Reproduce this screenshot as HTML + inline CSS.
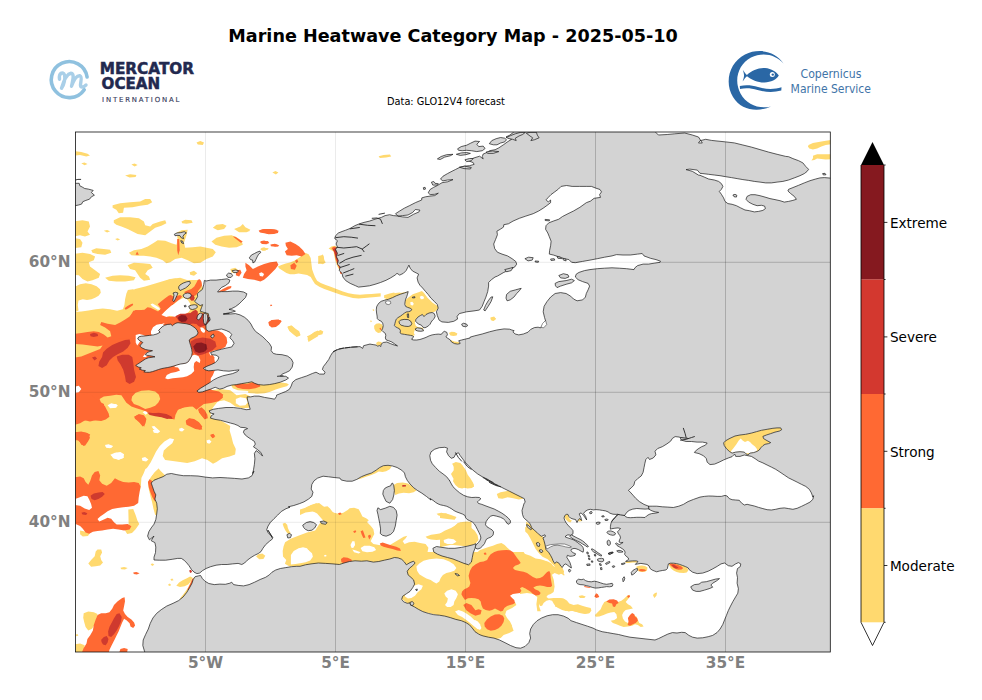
<!DOCTYPE html>
<html><head><meta charset="utf-8"><title>Marine Heatwave Category Map</title>
<style>
html,body{margin:0;padding:0;background:#fff}
body{width:982px;height:700px;overflow:hidden;position:relative}
svg{position:absolute;left:0;top:0;display:block}
text{font-family:"DejaVu Sans","Liberation Sans",sans-serif}
</style></head><body>
<svg width="982" height="700" viewBox="0 0 982 700">
<rect width="982" height="700" fill="#fff"/>
<defs><clipPath id="mapclip"><rect x="75.5" y="132.0" width="754.8" height="520.0"/></clipPath></defs>

<defs><path id="mainland" d="M513.5 132.0 L513.5 132.3 L509.8 135.1 L506.1 136.9 L511.6 139.3 L508.0 141.5 L503.4 144.8 L498.8 147.9 L495.1 149.7 L489.6 150.7 L486.9 152.5 L483.2 154.0 L482.3 156.5 L483.2 158.9 L479.6 156.2 L475.0 157.6 L471.3 158.9 L468.0 160.7 L473.2 162.6 L474.1 164.4 L469.5 165.7 L464.0 166.2 L459.4 167.5 L455.7 169.4 L452.1 171.2 L447.5 173.6 L442.9 176.3 L440.5 179.1 L442.9 180.9 L447.5 180.0 L453.0 179.6 L447.5 181.8 L442.0 182.7 L437.4 185.5 L433.7 187.3 L430.1 189.5 L428.2 192.8 L430.1 194.6 L434.7 194.3 L438.3 193.2 L434.7 195.6 L430.1 196.1 L425.5 196.8 L421.8 197.9 L421.7 200.0 L415.3 202.7 L409.8 205.5 L404.3 208.2 L399.7 211.0 L395.5 213.7 L397.9 216.1 L402.5 216.9 L408.0 217.4 L413.5 214.3 L419.0 211.9 L419.9 210.1 L415.3 209.5 L412.6 212.5 L408.0 215.0 L402.5 215.6 L398.8 216.1 L393.3 215.6 L389.6 214.7 L385.1 215.6 L381.4 217.4 L375.0 219.2 L369.5 221.1 L364.0 222.4 L359.4 223.8 L354.8 225.7 L350.2 228.4 L345.7 230.2 L342.0 231.5 L338.3 233.0 L335.6 235.7 L334.7 238.5 L337.4 240.7 L336.1 244.0 L337.4 246.7 L335.6 249.5 L337.4 253.2 L336.5 256.8 L338.3 260.5 L337.4 264.1 L340.2 266.9 L339.2 270.6 L342.0 273.3 L342.9 277.0 L345.7 280.6 L350.2 283.4 L355.7 285.8 L358.5 287.1 L364.0 286.5 L369.5 285.8 L375.0 284.3 L380.5 282.5 L386.0 280.3 L390.6 277.9 L395.1 275.1 L397.0 273.3 L399.7 275.1 L403.4 273.3 L406.1 270.6 L408.0 266.9 L408.9 265.1 L410.2 268.2 L412.6 271.1 L416.2 272.9 L418.6 274.2 L417.1 277.9 L418.1 282.1 L419.9 285.2 L422.6 288.0 L425.4 291.3 L428.1 294.4 L430.9 298.1 L434.6 301.7 L437.3 304.5 L438.2 308.1 L436.4 311.8 L437.3 315.5 L439.1 320.1 L441.9 321.9 L448.3 322.4 L453.8 321.3 L457.5 319.1 L457.1 316.4 L459.3 313.6 L466.6 311.8 L474.0 310.9 L479.5 310.0 L482.2 306.3 L484.0 301.7 L485.9 297.1 L487.7 291.6 L488.6 286.1 L488.6 282.5 L491.4 279.7 L495.0 277.0 L497.4 276.1 L503.8 272.4 L510.2 269.6 L514.8 266.9 L516.7 264.1 L515.7 261.4 L512.1 258.7 L507.5 255.9 L502.0 254.1 L497.4 252.2 L494.7 248.6 L493.7 244.0 L495.6 239.4 L497.4 234.8 L496.9 231.2 L500.2 229.3 L503.5 227.1 L503.8 224.7 L508.4 223.8 L513.0 221.1 L519.4 218.3 L525.8 216.1 L533.2 213.7 L538.7 211.0 L543.2 208.2 L546.9 205.5 L550.6 202.7 L550.6 200.0 L548.3 202.0 L546.1 199.8 L548.3 197.4 L551.0 194.6 L554.7 191.9 L558.4 189.1 L561.1 186.4 L566.6 185.5 L572.1 186.4 L579.5 186.4 L586.8 186.4 L591.4 186.4 L596.0 188.2 L600.0 189.5 L601.5 191.9 L599.6 194.6 L600.5 197.4 L594.1 198.3 L590.5 201.1 L586.3 202.7 L579.9 207.3 L573.5 211.0 L568.0 213.7 L562.5 216.5 L558.8 219.2 L553.3 221.1 L548.7 222.9 L546.0 225.7 L545.6 229.3 L547.8 233.0 L549.3 236.7 L551.1 241.2 L550.6 245.8 L549.6 250.4 L549.3 254.1 L553.3 255.0 L558.8 256.8 L564.3 258.7 L568.9 259.6 L571.6 262.3 L575.3 262.7 L582.6 261.4 L590.0 260.1 L597.3 258.7 L604.6 257.2 L612.0 255.9 L616.5 254.6 L623.0 255.0 L630.3 255.0 L637.6 254.1 L642.2 253.5 L644.0 255.9 L650.5 258.3 L656.0 259.6 L660.5 261.2 L660.0 262.3 L654.1 263.2 L648.6 264.1 L643.1 264.1 L637.6 265.6 L634.9 267.8 L634.0 269.6 L626.6 268.7 L619.3 268.2 L612.0 267.8 L604.6 268.2 L597.3 268.7 L590.0 269.6 L584.5 270.6 L579.0 272.4 L576.2 274.2 L575.3 277.0 L578.1 279.7 L582.6 281.6 L588.1 283.4 L589.6 286.1 L588.1 289.8 L586.3 293.5 L585.4 297.1 L582.6 299.9 L577.1 300.8 L573.5 299.0 L570.7 296.2 L566.1 293.5 L560.6 292.6 L555.1 293.5 L550.6 297.1 L546.9 301.7 L544.1 306.3 L543.2 311.8 L544.5 317.3 L545.6 321.0 L543.2 324.6 L540.5 327.9 L538.1 327.2 L534.4 327.6 L530.7 329.4 L528.0 332.2 L523.4 334.0 L518.8 334.9 L515.1 334.0 L512.9 331.8 L514.2 330.7 L511.8 330.0 L509.6 329.2 L504.1 328.9 L496.8 330.0 L489.5 331.8 L482.2 334.0 L474.8 335.8 L470.2 337.1 L470.0 338.0 L465.7 339.0 L461.6 340.0 L458.6 340.8 L459.6 342.0 L460.1 343.6 L457.6 344.1 L454.5 343.6 L451.5 342.0 L450.4 340.0 L447.4 338.0 L445.9 336.9 L447.4 334.9 L446.9 332.4 L444.3 331.3 L442.3 332.9 L441.3 334.4 L438.2 334.1 L435.2 334.4 L432.1 334.9 L429.1 335.9 L426.0 337.4 L423.0 338.5 L419.9 339.5 L416.8 340.0 L413.8 340.0 L411.8 339.5 L412.3 338.0 L413.8 336.9 L412.8 335.9 L410.7 335.4 L407.7 334.9 L404.6 334.4 L401.6 333.9 L400.0 332.9 L400.5 330.8 L399.5 328.8 L397.5 327.8 L395.5 326.8 L394.4 325.7 L394.9 323.7 L395.5 321.2 L396.3 319.1 L398.0 317.6 L400.5 316.1 L402.6 314.5 L404.6 313.0 L406.2 312.0 L408.7 311.7 L410.7 311.0 L411.8 309.4 L410.2 308.2 L407.7 307.4 L405.6 306.4 L404.8 304.3 L405.1 301.8 L405.6 299.3 L406.7 296.7 L407.5 294.2 L408.2 291.6 L404.6 292.9 L400.5 294.2 L396.5 295.7 L392.4 297.7 L388.3 299.3 L384.3 300.3 L381.2 301.3 L379.2 302.8 L377.6 304.9 L376.6 306.9 L376.3 309.9 L376.6 313.0 L377.1 316.1 L377.3 318.6 L378.7 320.1 L381.2 321.2 L382.7 323.2 L383.2 325.7 L382.7 328.3 L381.7 330.3 L383.2 331.8 L385.3 333.4 L385.8 335.4 L385.3 338.0 L386.3 340.0 L388.8 340.8 L391.9 342.0 L394.9 344.1 L397.5 345.9 L394.4 345.1 L390.4 343.6 L386.8 342.0 L383.2 342.5 L381.2 344.1 L380.7 346.6 L379.7 345.6 L377.6 346.1 L376.1 345.1 L373.1 344.6 L370.0 344.1 L370.1 344.0 L363.6 345.7 L362.7 348.4 L360.0 346.6 L352.6 347.1 L345.3 347.9 L339.8 349.0 L336.1 350.2 L332.5 352.6 L330.6 355.7 L328.8 359.4 L326.1 363.1 L323.3 366.7 L322.4 369.5 L325.1 372.2 L324.2 374.1 L319.6 374.1 L316.0 372.2 L312.3 373.5 L306.8 375.9 L301.3 377.7 L295.8 379.6 L292.5 382.3 L291.2 386.0 L289.4 389.3 L285.7 391.5 L281.2 393.3 L276.6 395.1 L276.4 396.5 L274.6 399.2 L270.0 398.3 L264.5 397.4 L259.0 396.1 L254.4 396.1 L250.7 396.9 L247.1 396.9 L247.6 400.2 L248.9 404.7 L250.2 409.3 L246.1 409.7 L240.6 408.4 L233.3 407.5 L226.0 407.5 L218.7 408.4 L213.2 409.3 L209.1 410.8 L210.4 413.0 L214.1 413.9 L211.3 415.7 L210.4 418.1 L215.0 419.4 L220.5 420.3 L226.0 421.8 L230.6 423.1 L234.2 424.0 L237.9 425.5 L240.6 427.3 L245.2 427.7 L247.6 428.6 L244.3 429.9 L243.4 432.2 L245.2 435.0 L248.0 437.2 L251.6 439.6 L254.4 441.4 L255.3 444.1 L253.5 446.9 L257.1 449.3 L260.8 452.4 L262.6 456.1 L259.9 453.3 L256.2 450.6 L254.4 453.3 L254.9 458.8 L254.4 464.3 L253.5 469.8 L252.6 473.5 L253.9 471.1 L252.0 475.7 L248.4 477.9 L242.0 479.0 L234.6 478.4 L227.3 477.9 L220.0 477.5 L212.6 477.9 L205.3 477.1 L198.0 476.0 L190.6 475.7 L183.3 475.7 L176.9 474.7 L171.4 473.5 L166.8 474.2 L163.2 476.6 L158.6 478.4 L154.0 480.2 L151.2 483.0 L152.5 486.7 L154.0 491.2 L155.8 494.9 L154.9 499.1 L156.7 503.2 L157.3 508.7 L156.7 514.1 L155.8 519.6 L154.0 524.2 L151.2 527.9 L148.9 531.6 L147.6 536.1 L149.4 539.8 L154.0 536.1 L151.2 540.7 L154.9 542.6 L155.8 547.1 L155.5 552.6 L154.0 557.2 L154.0 560.0 L159.3 560.2 L165.7 560.2 L172.2 559.3 L177.7 558.4 L181.3 558.4 L184.1 560.2 L186.8 563.0 L189.0 565.7 L191.4 569.4 L194.1 572.2 L196.9 573.6 L199.6 573.1 L202.4 570.7 L206.1 568.5 L210.6 566.7 L216.1 565.2 L221.6 564.5 L227.1 564.5 L232.6 563.9 L238.1 563.4 L241.8 564.5 L244.6 563.0 L247.3 560.2 L251.0 557.5 L254.6 555.3 L258.3 553.5 L261.0 551.6 L262.9 548.3 L265.6 544.7 L269.3 541.4 L272.6 538.8 L271.1 535.5 L268.9 531.8 L267.8 530.0 L272.8 537.6 L270.4 535.2 L268.0 532.5 L266.7 529.7 L268.0 526.1 L270.4 522.4 L274.0 518.7 L277.7 515.1 L281.4 511.4 L286.0 508.7 L290.0 507.2 L288.3 506.8 L293.8 505.5 L299.3 503.7 L303.9 501.9 L308.5 499.1 L311.8 496.4 L313.0 492.2 L311.2 489.1 L311.8 484.5 L314.0 480.8 L317.6 478.1 L323.1 476.2 L328.6 476.8 L334.1 477.5 L340.0 478.1 L341.2 480.0 L346.7 481.2 L352.2 481.2 L356.8 479.4 L361.4 476.7 L366.0 474.8 L371.5 473.0 L376.1 470.2 L379.7 467.5 L383.4 465.7 L388.0 465.3 L392.6 466.0 L397.1 467.5 L401.7 470.2 L404.5 473.0 L405.4 476.7 L407.2 480.3 L410.0 484.0 L413.6 487.7 L417.3 490.4 L421.9 493.2 L426.5 496.5 L431.0 500.1 L430.0 498.5 L431.0 499.1 L433.1 500.4 L435.6 502.4 L438.1 503.9 L440.7 504.9 L443.7 505.5 L446.8 506.3 L449.3 507.5 L451.9 509.0 L453.9 510.5 L456.0 511.6 L458.0 512.4 L460.0 513.1 L462.6 514.1 L465.1 515.6 L465.6 517.7 L467.2 519.5 L469.7 520.7 L472.3 522.0 L474.3 523.8 L475.8 526.3 L477.4 529.4 L478.9 532.4 L480.4 535.5 L480.9 538.0 L479.9 540.6 L478.4 542.6 L476.3 544.7 L474.8 546.7 L475.8 548.4 L477.9 549.0 L480.4 548.0 L482.4 546.2 L484.5 543.6 L485.5 541.1 L486.5 539.1 L488.6 538.0 L491.1 537.0 L493.1 535.0 L493.6 531.9 L492.1 529.9 L489.6 528.4 L487.0 526.8 L485.5 524.8 L486.0 521.8 L488.0 518.7 L490.6 516.2 L493.1 515.4 L496.7 516.2 L500.3 517.2 L503.3 518.7 L505.4 520.7 L506.9 523.3 L508.9 524.3 L510.4 522.8 L510.4 520.7 L508.4 518.2 L505.4 515.6 L501.8 513.1 L498.2 511.1 L494.2 509.0 L490.1 507.5 L486.0 506.0 L481.9 504.4 L478.4 503.4 L477.4 501.9 L478.9 500.4 L480.9 498.8 L479.4 497.5 L475.8 497.3 L471.8 497.5 L467.7 496.8 L463.6 495.3 L459.5 492.7 L456.0 489.7 L452.9 486.6 L450.9 483.1 L449.3 480.0 L449.4 480.3 L446.6 476.7 L443.0 473.9 L439.3 471.2 L435.6 467.5 L432.3 463.8 L430.5 460.2 L429.8 455.6 L431.0 451.9 L434.7 449.2 L439.3 447.7 L444.8 447.3 L447.5 448.2 L446.6 451.9 L448.5 455.6 L451.2 458.3 L454.0 457.4 L455.8 453.7 L458.5 452.8 L460.2 455.6 L462.9 459.2 L465.7 462.9 L469.3 466.6 L473.0 470.2 L477.6 473.9 L482.2 476.7 L487.7 479.4 L493.2 483.1 L498.7 485.8 L504.1 488.6 L509.6 491.3 L515.1 494.1 L520.6 496.8 L524.3 498.7 L525.2 502.3 L524.1 503.2 L523.1 506.8 L522.0 510.4 L522.5 514.4 L523.6 517.5 L526.1 520.0 L528.7 522.1 L530.2 524.1 L531.7 527.7 L534.3 530.2 L536.8 532.3 L539.3 534.8 L541.4 536.3 L544.9 534.8 L545.5 536.3 L542.9 537.9 L543.9 540.4 L543.9 540.5 L544.9 544.1 L545.5 547.1 L546.0 549.7 L548.5 552.2 L550.5 555.3 L552.1 558.3 L553.1 560.9 L554.6 563.4 L556.7 561.9 L559.2 563.4 L560.7 566.0 L562.3 567.5 L563.8 564.9 L565.8 563.9 L567.9 565.5 L569.9 567.0 L571.4 568.0 L570.9 565.5 L569.9 562.4 L568.4 559.9 L566.8 557.3 L567.4 555.3 L569.9 556.3 L572.4 556.1 L575.0 555.3 L575.5 553.7 L573.0 552.7 L570.9 550.7 L571.4 549.2 L574.0 548.4 L576.0 548.7 L578.6 549.7 L581.1 551.2 L583.1 552.2 L583.6 550.2 L583.1 547.6 L581.6 545.6 L579.6 544.1 L577.5 542.5 L575.5 541.0 L574.0 540.0 L570.9 538.9 L567.9 537.9 L565.3 537.0 L565.8 535.8 L567.9 534.8 L570.9 535.3 L573.0 533.8 L573.0 530.7 L571.9 529.2 L569.9 527.2 L567.9 525.1 L566.3 523.1 L564.8 520.5 L564.0 518.0 L564.8 515.5 L566.3 514.4 L567.9 514.4 L568.9 516.5 L570.4 518.0 L573.0 519.0 L575.5 519.5 L577.0 522.6 L578.0 520.5 L579.6 518.5 L581.6 520.5 L580.9 517.5 L579.1 513.9 L581.1 512.9 L583.6 515.5 L586.7 520.0 L585.7 516.5 L583.6 513.4 L585.2 511.4 L587.7 509.9 L590.3 509.3 L593.3 509.9 L595.9 509.6 L599.4 509.9 L602.5 510.4 L605.5 510.9 L608.1 511.9 L609.9 513.2 L612.9 514.2 L616.0 514.4 L618.0 514.2 L616.5 516.0 L614.4 518.0 L612.4 520.3 L611.6 521.6 L610.9 523.6 L610.4 526.7 L610.4 529.2 L611.9 528.7 L614.9 528.2 L618.0 527.9 L620.5 528.5 L619.0 530.2 L617.5 531.8 L618.5 533.8 L620.0 535.8 L620.5 537.9 L619.5 539.9 L619.0 541.9 L620.5 542.7 L623.1 542.4 L621.6 543.5 L619.5 544.5 L618.0 544.0 L616.5 543.0 L615.5 543.5 L617.0 545.5 L619.5 547.0 L622.1 548.6 L624.1 550.1 L625.1 552.1 L625.1 552.2 L624.6 554.3 L626.2 556.3 L628.2 557.8 L628.7 559.3 L627.2 560.4 L625.6 561.4 L628.7 561.2 L632.8 560.9 L636.3 560.9 L637.9 561.4 L636.8 562.9 L635.3 564.4 L637.9 563.9 L640.9 563.4 L644.0 563.9 L647.0 564.4 L649.1 566.0 L650.1 568.5 L652.1 570.0 L654.7 571.1 L656.7 571.8 L659.2 571.1 L662.3 570.5 L665.9 570.0 L667.4 568.5 L667.9 566.0 L668.4 563.9 L670.4 563.2 L673.5 563.2 L676.6 563.6 L679.6 564.4 L682.7 565.5 L685.7 566.7 L688.3 568.0 L688.9 569.4 L692.6 572.2 L697.2 573.6 L702.7 573.1 L708.2 571.2 L712.7 568.9 L717.3 566.3 L721.0 563.9 L724.6 563.0 L728.3 565.7 L732.0 566.3 L735.6 563.9 L738.4 562.6 L740.8 563.9 L740.2 566.7 L737.5 568.5 L736.6 573.1 L737.5 577.7 L737.1 583.2 L738.4 588.7 L737.8 593.2 L735.6 596.9 L732.9 601.5 L730.5 606.1 L728.3 610.6 L726.5 615.2 L724.6 619.8 L722.8 624.4 L720.1 629.0 L717.0 632.6 L712.7 635.4 L708.2 636.7 L702.7 637.8 L697.2 638.1 L692.6 637.2 L688.9 635.4 L685.2 632.6 L681.6 632.3 L677.0 633.0 L672.4 632.6 L667.8 634.1 L663.2 636.3 L658.7 638.5 L655.0 640.0 L630.0 637.2 L624.1 635.9 L618.6 634.5 L613.1 633.6 L607.6 632.6 L602.1 631.7 L596.6 629.9 L593.0 628.1 L587.5 626.2 L582.0 624.4 L576.5 622.6 L571.0 620.7 L568.2 618.3 L563.6 616.1 L558.1 614.7 L552.6 614.7 L547.1 615.8 L541.6 618.0 L537.1 620.7 L533.4 624.4 L530.6 629.0 L529.7 633.6 L530.6 638.1 L528.8 642.7 L525.1 646.4 L520.6 648.2 L516.0 647.7 L510.5 645.5 L505.0 642.7 L499.5 640.0 L494.0 638.1 L488.5 637.2 L483.0 635.9 L480.0 634.8 L478.7 634.1 L475.0 631.7 L472.3 628.1 L469.5 624.9 L465.9 622.6 L461.3 620.7 L455.8 619.4 L450.3 617.6 L444.8 616.1 L439.3 615.2 L433.8 614.7 L428.3 613.4 L422.8 611.6 L418.2 609.2 L414.6 607.0 L410.9 605.1 L410.0 602.9 L407.2 603.3 L403.6 601.8 L401.7 599.3 L402.6 596.3 L406.3 593.8 L410.0 591.4 L412.7 587.7 L414.6 584.1 L413.6 579.9 L410.9 577.3 L408.1 574.9 L407.2 571.2 L409.6 568.1 L412.7 565.7 L415.1 563.0 L413.6 561.2 L410.0 562.6 L406.3 564.8 L404.5 562.1 L401.7 559.3 L398.1 557.9 L394.4 557.5 L389.8 559.0 L384.3 560.2 L378.8 561.5 L373.3 562.1 L366.9 560.8 L361.4 561.2 L355.0 560.8 L349.5 561.5 L344.0 563.0 L339.4 564.5 L333.0 563.9 L325.7 563.4 L318.3 563.0 L311.0 563.9 L305.5 564.8 L300.0 566.3 L296.8 566.3 L291.3 566.7 L285.8 567.6 L280.3 568.5 L275.7 570.0 L272.0 572.2 L269.3 574.9 L265.6 577.3 L260.1 579.5 L254.6 582.2 L249.1 584.6 L243.6 585.9 L238.1 585.4 L233.6 584.6 L231.7 582.2 L229.9 583.2 L225.3 584.3 L219.8 584.1 L214.3 584.6 L208.8 583.5 L205.1 581.3 L202.4 578.6 L200.6 575.5 L198.7 575.8 L195.1 576.7 L193.2 579.5 L192.0 583.2 L189.6 587.7 L186.8 592.3 L183.2 596.9 L178.6 600.6 L173.1 603.3 L166.7 606.1 L161.2 609.7 L156.6 613.4 L152.9 618.0 L150.2 623.5 L148.3 629.0 L145.6 634.5 L143.2 640.0 L142.8 645.5 L144.7 651.9 L144.7 655.0 L833.3 655.0 L833.3 178.1 L830.3 178.1 L824.3 177.6 L820.0 177.9 L815.7 179.0 L810.0 180.7 L804.3 182.9 L798.6 185.3 L792.9 187.6 L788.6 189.3 L787.9 191.0 L790.7 193.6 L794.3 196.4 L796.4 199.3 L792.9 200.4 L788.6 201.4 L784.3 202.1 L780.0 200.7 L775.0 199.6 L770.0 198.6 L765.0 197.1 L760.0 195.7 L755.0 194.7 L750.7 194.7 L747.1 196.4 L746.0 199.3 L748.6 202.1 L752.9 204.3 L757.1 205.7 L761.4 205.3 L764.6 206.1 L765.4 208.6 L762.9 210.4 L758.6 211.4 L754.3 211.9 L749.3 210.7 L745.0 210.0 L740.7 207.9 L736.4 205.7 L732.1 204.3 L727.9 203.6 L725.0 201.4 L723.6 197.9 L721.4 194.3 L719.3 191.4 L721.4 189.3 L722.9 186.4 L721.4 183.6 L718.6 181.4 L714.3 180.0 L708.6 179.0 L704.3 177.1 L700.0 175.3 L698.5 175.1 L692.3 171.3 L686.0 169.6 L689.8 169.1 L697.3 170.1 L700.0 173.3 L702.9 173.6 L708.6 174.3 L714.3 175.0 L720.0 175.7 L725.7 176.7 L731.4 177.6 L737.1 178.6 L742.9 179.6 L748.6 180.4 L754.3 181.4 L760.0 182.1 L765.7 182.9 L771.4 182.9 L777.1 182.1 L782.9 181.4 L788.6 180.0 L794.3 177.9 L800.0 175.7 L804.3 173.6 L807.1 171.4 L808.6 169.3 L805.7 166.4 L802.9 162.9 L798.6 160.7 L792.9 158.6 L788.6 156.7 L785.7 156.4 L777.1 154.3 L768.6 152.1 L760.0 149.6 L751.4 147.1 L742.9 145.0 L734.3 142.9 L725.7 141.9 L717.1 141.0 L711.4 140.4 L705.7 139.3 L700.0 140.7 L698.5 143.0 L702.3 143.0 L698.5 137.0 L692.3 135.0 L684.7 133.0 L674.7 133.8 L667.2 134.5 L658.4 135.0 L655.9 132.5 L656.0 129.0 L513.5 129.0Z M648.6 506.2 L644.0 504.4 L639.4 501.6 L635.7 498.3 L633.0 495.2 L630.2 492.1 L628.4 490.3 L631.2 487.9 L633.9 485.1 L634.8 481.5 L637.6 478.7 L641.2 476.0 L643.1 472.3 L644.0 467.7 L644.9 463.2 L645.8 459.5 L648.0 457.3 L649.5 459.5 L653.2 458.0 L655.9 454.9 L655.0 451.2 L657.7 448.5 L662.3 446.7 L666.9 443.9 L670.6 441.2 L672.4 438.4 L675.1 436.6 L679.7 437.1 L681.6 440.2 L686.1 441.5 L691.6 441.5 L697.1 442.1 L702.6 442.1 L707.2 443.0 L705.4 445.2 L701.7 446.7 L698.1 448.9 L695.3 451.2 L694.4 452.5 L699.0 453.6 L703.6 455.8 L706.3 458.6 L707.2 462.2 L710.0 464.6 L714.6 464.1 L719.1 462.2 L723.7 459.9 L728.3 458.0 L732.0 456.7 L734.7 454.0 L735.7 456.4 L740.0 456.4 L744.3 455.0 L747.9 455.7 L751.4 456.4 L755.0 458.6 L758.6 461.1 L762.9 462.9 L767.1 465.0 L771.4 467.1 L775.7 469.3 L780.0 472.1 L784.3 475.0 L788.6 477.9 L792.9 480.0 L797.1 482.1 L801.4 484.3 L805.7 486.4 L809.3 489.3 L811.4 492.9 L812.9 497.1 L813.6 495.7 L812.9 499.3 L810.0 502.1 L805.7 504.3 L801.4 506.4 L797.1 508.3 L792.9 509.3 L788.6 508.6 L784.3 507.9 L780.0 508.3 L775.7 509.3 L771.4 510.0 L767.1 509.7 L762.9 508.6 L758.6 507.4 L754.3 506.0 L750.0 505.0 L747.1 504.3 L744.3 505.0 L741.4 502.9 L739.3 500.3 L735.7 500.0 L732.1 499.7 L729.3 498.6 L727.1 496.0 L725.0 495.4 L721.4 496.4 L717.1 496.4 L712.9 496.1 L708.6 496.0 L704.3 496.4 L700.0 497.1 L693.5 499.4 L688.0 501.6 L683.4 504.4 L678.8 506.2 L673.3 507.5 L667.8 507.1 L662.3 506.8 L656.8 506.2 L652.2 506.2Z M723.6 442.9 L725.7 440.7 L730.0 438.3 L735.0 436.0 L740.0 435.0 L745.7 434.3 L751.4 433.1 L756.4 431.7 L761.4 430.3 L767.1 429.3 L772.9 428.3 L777.1 427.9 L780.7 427.9 L781.7 429.7 L779.3 431.1 L775.0 432.1 L770.7 433.6 L766.4 435.0 L762.9 436.4 L763.6 438.6 L767.1 440.7 L770.7 442.6 L768.6 443.6 L765.0 444.3 L762.9 445.7 L760.7 447.9 L759.3 450.0 L757.1 451.4 L753.6 452.6 L750.0 453.1 L747.9 455.0 L745.7 453.6 L744.3 452.1 L740.0 451.7 L735.7 452.1 L732.1 453.1 L729.3 451.4 L726.4 448.6 L724.3 445.7Z M624.6 515.5 L626.7 512.4 L629.2 510.4 L632.8 509.1 L636.8 508.5 L640.9 508.8 L645.0 509.1 L648.6 508.8 L650.1 509.9 L652.1 510.9 L655.2 511.9 L658.7 512.4 L655.2 513.2 L651.6 513.6 L649.1 514.4 L646.5 516.0 L645.0 517.5 L640.9 517.3 L636.8 517.3 L633.8 517.5 L630.7 517.7 L627.7 517.5 L625.6 516.7Z" fill-rule="evenodd" clip-rule="evenodd"/><path id="isles" d="M457.6 148.8 L461.2 146.6 L466.7 145.2 L470.4 143.3 L475.0 141.1 L479.6 141.5 L476.8 144.2 L478.7 146.6 L483.2 146.1 L485.1 148.5 L482.3 150.7 L476.8 151.6 L471.3 150.7 L466.7 150.3 L462.2 150.7 L458.5 150.3Z M489.3 143.7 L491.8 140.6 L496.1 138.7 L500.6 137.5 L504.7 138.2 L506.5 139.7 L504.7 141.9 L500.6 143.0 L497.0 144.8 L493.3 144.8Z M506.1 137.5 L510.7 135.6 L515.3 133.8 L520.8 132.3 L525.4 132.3 L522.6 134.5 L519.0 136.0 L515.3 138.2 L516.2 140.6 L512.6 139.3 L509.4 138.7Z M526.3 133.2 L530.0 132.3 L536.4 132.3 L537.3 135.1 L539.1 137.8 L534.6 139.7 L530.9 140.6 L532.7 137.8 L530.0 136.0Z M437.4 158.9 L441.1 156.5 L446.6 154.7 L453.0 154.3 L450.2 155.8 L444.7 157.1 L440.2 159.5Z M456.3 154.3 L461.2 152.9 L466.7 152.5 L470.4 153.4 L465.8 154.7 L460.3 155.4Z M486.0 152.1 L492.4 151.0 L498.8 151.6 L493.3 153.4 L487.8 153.4Z M464.9 159.8 L469.5 158.5 L473.2 158.5 L471.3 160.7 L466.7 161.7Z M459.4 167.2 L464.9 166.2 L471.3 167.5 L470.4 169.0 L464.0 168.6Z M431.4 182.2 L433.7 181.5 L435.0 183.3 L438.3 183.7 L437.4 185.1 L432.8 185.1Z M423.3 187.7 L425.1 187.3 L425.5 189.1 L423.7 189.5Z M555.1 283.4 L558.8 281.6 L566.1 280.6 L571.6 279.2 L574.4 280.6 L571.6 282.8 L566.1 284.3 L560.6 286.1 L557.0 287.6 L555.5 285.8Z M558.8 275.5 L563.4 273.7 L568.0 274.8 L568.9 277.0 L565.2 278.4 L560.6 277.9Z M506.6 294.4 L510.2 291.3 L515.7 289.8 L521.2 288.3 L519.4 290.7 L516.7 293.5 L513.9 297.1 L510.2 299.9 L507.1 300.8 L506.0 298.1Z M483.7 310.0 L485.5 305.4 L488.2 300.8 L491.0 297.1 L492.8 296.8 L491.0 301.7 L488.2 306.3 L485.1 310.9Z M524.9 258.7 L528.6 257.2 L533.2 257.7 L532.2 260.1 L528.0 260.9Z M535.0 261.0 L538.7 261.2 L538.3 262.3 L535.4 262.1Z M550.6 259.0 L554.2 258.7 L554.8 260.1 L551.1 260.5Z M557.0 256.5 L560.6 257.2 L561.6 258.7 L557.9 258.3Z M562.8 258.3 L565.8 259.0 L566.1 260.9 L563.4 260.1Z M545.1 219.4 L549.6 219.8 L549.3 220.9 L545.2 220.5Z M504.7 269.6 L510.2 268.2 L513.0 267.4 L511.2 270.6 L506.6 271.8Z M399.0 321.7 L400.5 320.1 L404.1 319.4 L408.2 319.6 L410.7 321.2 L411.8 323.7 L410.7 325.7 L408.2 326.5 L404.6 326.2 L401.1 325.2 L399.5 323.7Z M415.8 319.6 L417.9 317.1 L420.4 315.5 L422.4 314.5 L424.0 316.6 L426.0 314.5 L429.1 313.0 L432.1 312.5 L434.2 313.5 L435.2 316.1 L434.2 318.6 L432.6 320.1 L431.1 322.2 L430.1 324.2 L428.6 325.7 L427.0 326.8 L425.0 327.8 L423.0 327.3 L421.4 325.2 L418.9 324.2 L416.8 322.7 L415.6 321.2Z M415.3 328.8 L417.4 327.8 L420.9 328.3 L423.0 329.3 L423.5 330.8 L420.9 331.3 L417.9 331.0 L415.8 330.3Z M461.6 324.2 L463.7 323.2 L466.7 324.2 L467.6 325.7 L465.7 326.8 L462.7 326.2Z M412.3 297.2 L414.8 296.7 L415.0 297.7 L412.6 298.0Z M407.2 314.0 L408.5 313.8 L408.7 317.6 L407.5 317.4Z M206.1 281.0 L210.6 280.1 L216.1 280.1 L221.6 279.5 L227.1 278.8 L229.9 280.1 L229.0 282.8 L225.3 285.6 L221.6 287.4 L218.9 290.2 L217.6 292.0 L221.6 291.6 L227.1 291.6 L232.6 291.1 L238.1 291.1 L243.6 292.0 L246.9 293.8 L245.5 297.5 L241.8 301.2 L239.1 303.9 L235.4 306.7 L231.7 308.5 L229.0 309.4 L232.6 310.0 L235.4 311.2 L230.8 312.5 L225.3 313.6 L223.5 314.0 L229.9 314.0 L235.4 313.6 L240.0 314.9 L244.6 317.3 L248.2 320.4 L251.0 324.1 L252.8 327.7 L255.5 331.4 L259.2 334.1 L262.9 336.9 L266.5 340.6 L269.3 343.3 L271.5 347.0 L271.1 350.6 L273.3 353.4 L276.6 354.3 L282.1 354.7 L287.6 356.1 L291.3 358.9 L293.1 362.6 L292.2 367.1 L289.5 370.8 L285.8 372.6 L282.1 374.1 L280.3 376.3 L285.8 376.3 L288.5 378.1 L285.8 380.0 L280.3 382.2 L274.8 383.6 L269.3 384.6 L263.8 385.1 L258.3 384.6 L254.6 383.3 L251.9 381.8 L247.3 382.7 L241.8 383.6 L236.3 384.6 L231.7 385.1 L227.1 386.4 L223.5 388.2 L219.8 389.1 L215.2 387.3 L210.6 389.1 L206.1 390.6 L202.4 391.9 L198.7 392.4 L196.9 391.0 L200.6 388.2 L205.1 385.5 L209.7 382.7 L213.4 380.0 L217.6 377.8 L222.6 375.9 L227.1 374.8 L232.6 373.6 L237.2 371.7 L239.1 369.9 L234.5 370.4 L229.0 371.2 L223.5 370.8 L218.0 369.9 L213.4 370.4 L208.8 370.8 L205.1 369.9 L203.3 368.1 L207.0 366.2 L211.6 364.4 L215.2 362.6 L218.0 359.8 L218.9 357.1 L216.1 355.2 L211.6 354.7 L210.6 352.5 L216.1 350.6 L221.6 349.2 L227.1 347.9 L231.7 347.0 L234.1 343.3 L232.6 340.6 L229.9 337.8 L231.7 334.5 L229.9 332.3 L226.2 330.5 L221.6 329.0 L217.1 329.6 L212.5 330.5 L208.8 331.4 L206.1 329.6 L205.9 325.0 L209.2 321.0 L208.8 316.7 L208.3 313.6 L204.2 312.5 L200.2 311.2 L201.5 307.6 L202.6 304.6 L200.2 305.6 L196.9 303.4 L194.5 301.3 L196.3 299.0 L197.6 296.6 L197.3 293.8 L199.6 291.6 L202.4 289.4 L203.7 284.7 L204.4 280.4Z M178.0 322.7 L182.0 323.2 L186.1 323.7 L190.2 324.7 L192.7 326.3 L195.3 328.1 L197.1 330.3 L198.1 332.9 L196.8 335.2 L194.2 336.9 L191.2 338.3 L189.2 340.0 L189.7 342.5 L190.7 345.6 L191.7 349.2 L192.2 352.7 L191.7 355.8 L190.2 358.8 L188.3 361.7 L186.1 363.1 L183.0 363.7 L180.0 364.1 L176.9 365.0 L173.9 366.0 L170.8 366.8 L167.8 367.5 L164.7 368.0 L161.7 368.6 L158.6 369.5 L155.5 370.6 L152.5 371.6 L149.4 372.3 L146.4 372.3 L143.8 371.9 L145.4 370.6 L142.3 370.2 L139.3 369.0 L141.3 367.8 L138.2 367.0 L135.7 365.5 L137.7 364.1 L140.3 362.4 L142.8 360.7 L145.4 359.0 L148.4 357.8 L152.0 357.3 L155.0 356.8 L151.5 356.0 L147.9 355.6 L145.4 354.8 L146.9 352.7 L149.9 351.5 L152.5 350.7 L148.9 350.2 L145.4 349.5 L141.8 347.8 L139.8 346.1 L141.3 344.1 L142.8 342.5 L140.3 341.0 L137.7 339.0 L138.7 336.9 L141.3 336.2 L145.4 335.9 L149.4 335.4 L153.5 334.9 L157.1 333.9 L160.1 332.2 L158.6 330.5 L160.1 328.8 L162.2 326.8 L164.7 325.2 L167.8 324.4 L170.8 324.2 L172.4 325.7 L173.9 324.4 L175.9 323.2Z M210.6 336.0 L213.4 334.1 L214.3 336.3 L212.1 338.2Z M178.6 286.9 L180.1 284.9 L183.1 283.1 L186.7 281.8 L189.8 281.3 L190.3 283.3 L188.2 285.9 L185.7 287.9 L182.6 289.4 L180.1 290.5 L178.9 288.9Z M173.0 293.0 L175.5 292.3 L178.0 293.0 L177.0 295.5 L175.5 298.6 L174.0 301.7 L172.7 300.6 L173.5 297.6 L174.0 295.0Z M183.1 295.0 L185.2 293.5 L187.7 293.0 L190.3 293.5 L191.3 295.5 L190.3 297.6 L187.7 298.6 L185.2 298.1 L183.6 296.8Z M184.2 305.7 L185.7 305.2 L186.2 306.5 L184.7 307.0Z M188.7 306.2 L191.3 305.2 L194.3 304.7 L196.9 305.2 L197.4 307.3 L195.4 308.8 L192.3 309.6 L189.8 308.8Z M197.4 315.9 L198.9 313.9 L201.0 312.9 L202.5 313.9 L201.5 316.4 L199.9 319.0 L198.2 320.0 L196.9 318.5Z M203.5 313.9 L205.5 312.9 L207.4 314.9 L207.8 319.0 L206.6 323.0 L205.0 325.1 L203.7 322.5 L203.3 318.5Z M208.4 318.0 L209.6 317.4 L210.2 320.0 L209.0 321.2Z M74.3 183.3 L79.2 183.3 L79.8 185.8 L82.2 187.0 L84.7 188.5 L88.3 189.1 L93.2 190.4 L91.4 192.5 L94.4 195.2 L91.4 196.8 L89.5 199.2 L85.9 200.4 L82.8 201.7 L81.6 204.1 L78.6 205.0 L74.3 205.8Z M174.3 234.3 L177.1 232.9 L180.7 232.6 L184.3 231.7 L186.4 232.9 L184.3 234.3 L182.9 236.4 L183.6 238.6 L181.4 237.9 L180.0 235.7 L177.9 235.4 L175.0 235.7Z M180.7 240.7 L182.6 241.1 L183.6 243.6 L181.7 242.9Z M249.3 257.9 L251.4 255.0 L254.3 253.6 L257.1 252.1 L260.0 251.1 L260.7 252.6 L258.6 254.3 L257.1 256.9 L256.0 259.3 L254.6 262.1 L252.9 262.9 L252.6 260.0 L250.7 259.7Z M226.4 275.0 L228.6 273.1 L231.4 273.6 L232.6 275.7 L231.1 277.4 L227.9 277.4Z M232.1 270.7 L235.7 270.0 L238.6 270.7 L237.1 272.6 L233.6 272.6Z M392.6 483.1 L393.8 485.8 L394.4 490.4 L393.8 495.0 L392.6 499.6 L389.8 503.2 L386.1 501.4 L384.3 497.7 L382.8 494.1 L383.4 490.4 L385.2 488.0 L388.0 486.7 L390.7 485.8 L391.6 483.6Z M377.9 507.8 L380.6 509.6 L385.2 508.2 L389.8 506.3 L393.5 507.4 L396.2 510.6 L397.1 515.1 L396.2 520.6 L395.3 526.1 L393.5 531.6 L390.7 534.4 L386.1 536.2 L382.5 535.3 L380.3 533.5 L380.6 528.9 L379.7 523.4 L378.8 518.8 L377.9 514.2 L377.0 510.6Z M302.7 525.2 L306.4 522.5 L310.1 521.6 L313.7 522.5 L316.5 524.7 L314.7 528.0 L311.9 530.2 L308.2 530.7 L305.5 529.4 L303.7 527.6Z M320.2 521.6 L323.8 521.0 L327.1 522.5 L325.7 524.3 L321.6 523.6Z M286.9 534.7 L289.3 533.4 L291.5 534.7 L290.5 537.6 L287.8 538.0Z M432.9 548.3 L436.5 546.5 L442.0 547.4 L448.5 548.3 L454.9 548.3 L461.3 547.4 L467.7 546.1 L473.2 544.7 L476.0 543.7 L475.0 548.3 L473.2 552.9 L472.3 557.5 L471.4 562.1 L468.6 564.8 L464.0 563.4 L458.5 561.2 L453.0 559.0 L447.5 557.5 L442.0 556.0 L437.5 554.2 L433.8 552.0Z M410.0 602.4 L412.2 601.5 L414.0 603.3 L412.7 605.5 L410.5 605.1Z M454.9 573.6 L457.6 574.0 L459.5 575.5 L457.3 575.8Z M415.5 589.6 L417.3 589.0 L416.9 590.9Z M576.5 580.7 L578.6 579.2 L581.1 579.7 L583.6 579.2 L585.7 580.7 L588.2 581.5 L591.3 581.8 L594.3 581.2 L597.4 581.8 L600.4 582.8 L603.5 583.8 L606.6 584.3 L609.6 583.8 L612.2 583.3 L612.9 584.8 L612.2 586.3 L609.6 586.8 L606.6 586.6 L604.5 587.0 L601.5 587.4 L598.4 587.9 L595.4 588.1 L592.3 587.4 L589.2 586.3 L586.2 585.6 L583.1 584.8 L580.1 584.6 L577.5 583.8 L576.5 582.3Z M568.7 569.7 L569.9 569.3 L570.7 570.5 L569.7 572.1 L568.7 571.4Z M571.4 534.8 L574.0 536.3 L577.0 537.9 L580.1 539.4 L582.6 540.9 L585.2 543.0 L587.2 545.0 L588.4 546.5 L587.2 547.0 L585.2 545.5 L582.6 544.0 L580.1 542.4 L577.0 540.9 L574.0 539.4 L571.4 537.9 L569.9 536.3Z M526.6 524.6 L528.1 525.1 L530.2 527.2 L531.7 529.2 L530.7 529.7 L528.7 528.2 L527.1 526.7Z M536.3 543.0 L538.3 542.4 L539.9 544.0 L539.3 546.5 L537.3 546.0Z M539.3 550.1 L541.4 549.6 L542.9 551.1 L541.9 552.6 L539.9 551.9Z M606.8 532.3 L608.3 531.2 L610.9 530.9 L613.4 531.8 L615.5 533.3 L614.9 534.8 L612.9 535.3 L610.4 534.8 L608.3 534.0Z M607.3 540.9 L608.8 540.1 L610.2 541.4 L610.4 544.0 L609.3 545.5 L607.8 545.0 L607.1 543.0Z M616.7 550.9 L619.0 550.3 L621.6 550.9 L623.1 551.9 L620.5 552.3 L618.0 552.1Z M608.3 553.6 L610.4 552.6 L612.6 552.3 L611.9 553.3 L609.9 554.4Z M596.3 522.6 L598.1 522.1 L600.2 522.4 L599.7 523.8 L597.6 524.4 L596.3 523.8Z M604.8 519.5 L606.8 519.0 L608.3 519.7 L607.3 520.5 L605.3 520.5Z M601.7 516.0 L603.7 515.7 L604.3 516.7 L602.2 517.0Z M590.0 511.9 L591.5 511.4 L592.2 512.9 L591.0 513.9 L589.5 513.2Z M631.2 572.6 L632.8 570.5 L635.3 569.0 L637.4 568.5 L637.7 570.0 L635.8 572.1 L633.8 574.1 L631.8 575.1Z M622.6 578.7 L624.1 576.7 L624.8 578.2 L624.1 580.7 L623.1 581.8Z M621.1 563.9 L623.1 563.2 L625.1 562.9 L624.6 563.9 L622.1 564.6Z M586.7 552.2 L588.0 552.0 L588.4 553.7 L587.2 554.1Z M588.0 555.3 L589.2 555.3 L589.7 556.8 L588.4 556.9Z M588.4 558.1 L589.9 558.3 L590.1 559.6 L588.8 559.6Z M591.3 560.9 L592.7 560.9 L592.9 562.2 L591.5 562.2Z M586.7 564.2 L589.8 563.9 L590.1 565.3 L587.0 565.5Z M591.8 548.7 L593.8 549.7 L595.9 551.2 L597.9 552.7 L600.4 554.3 L602.0 555.5 L601.0 556.1 L598.4 554.8 L595.9 553.2 L593.3 551.7 L591.5 550.0Z M597.4 559.3 L599.4 558.5 L601.5 558.3 L603.5 558.8 L603.7 560.9 L602.0 561.9 L599.9 561.6 L597.9 560.9Z M594.3 554.3 L595.6 554.5 L595.8 556.1 L594.5 555.9Z M599.4 563.6 L601.0 563.9 L601.3 565.5 L599.8 565.3Z M600.4 567.7 L601.7 567.5 L602.1 569.5 L600.7 569.7Z M605.5 563.4 L607.6 562.2 L609.6 561.4 L610.0 562.4 L608.1 563.6 L606.0 564.4Z M612.2 566.3 L614.2 565.7 L614.9 566.7 L612.9 567.5Z M608.4 553.2 L610.6 552.4 L612.9 552.0 L613.2 553.0 L610.8 553.8 L608.8 554.3Z M690.7 586.8 L694.4 584.6 L699.0 584.1 L701.7 582.2 L706.3 581.7 L710.9 580.4 L715.5 579.1 L719.5 578.6 L716.4 581.0 L712.7 583.2 L710.9 585.0 L712.7 587.2 L709.1 588.7 L704.5 590.1 L699.9 591.4 L696.2 591.4 L692.6 590.1Z M732.9 195.0 L735.0 194.3 L736.9 195.3 L736.4 197.1 L734.0 196.7Z M822.6 173.6 L825.0 173.3 L826.0 174.7 L823.4 175.0Z"/><clipPath id="landclip"><use href="#mainland"/><use href="#isles"/></clipPath></defs>
<g clip-path="url(#mapclip)">
<path d="M73.8 312.0 L81.5 311.5 L88.5 310.5 L95.8 309.3 L102.8 308.5 L110.1 309.3 L117.1 310.8 L122.9 309.3 L124.4 305.0 L125.1 299.3 L126.4 293.5 L127.9 290.0 L132.9 289.2 L138.6 290.8 L144.4 292.3 L149.9 290.8 L154.2 287.7 L158.7 284.2 L164.2 281.5 L169.9 279.2 L175.7 278.5 L180.0 280.0 L200.3 280.0 L206.5 300.0 L210.3 315.1 L210.3 390.2 L220.3 388.9 L230.3 390.2 L236.6 395.2 L245.4 394.0 L250.4 396.5 L250.9 402.7 L249.1 407.7 L242.8 408.2 L235.3 406.5 L230.3 402.7 L224.1 400.2 L217.8 401.5 L212.8 407.7 L210.3 415.3 L220.3 420.3 L230.3 426.0 L229.6 430.5 L231.3 436.0 L233.1 443.3 L235.8 449.1 L235.1 454.6 L229.6 456.6 L222.1 458.3 L216.5 462.1 L213.0 463.8 L207.5 460.1 L202.0 458.3 L194.7 461.3 L187.2 463.1 L180.0 462.1 L172.7 461.1 L165.2 460.1 L153.4 460.1 L148.9 467.1 L145.4 469.1 L143.6 473.6 L141.4 477.9 L140.6 490.4 L73.8 490.4Z M230.3 383.9 L236.6 380.7 L245.4 379.7 L255.4 379.7 L264.1 380.7 L269.1 383.9 L266.6 388.2 L260.4 390.7 L252.9 391.5 L245.4 390.7 L237.8 390.2 L232.8 388.2Z M287.4 327.1 L291.7 325.6 L295.5 328.8 L299.2 331.3 L300.5 335.1 L296.7 336.3 L292.9 333.1 L289.2 330.6Z M307.5 338.8 L310.5 335.1 L314.2 332.1 L318.0 330.6 L318.0 336.3 L312.5 339.6 L308.5 342.1Z" fill="#ffd96f" fill-rule="nonzero"/>
<path d="M196.5 142.5 L200.3 141.0 L204.0 142.5 L202.8 145.0 L197.8 144.5Z M75.5 151.3 L81.3 152.1 L87.5 153.8 L90.0 155.6 L86.3 156.6 L80.0 155.1 L75.5 155.6Z M81.3 163.3 L84.5 162.6 L87.5 164.1 L84.5 165.3Z M131.4 164.6 L134.6 163.6 L137.6 165.1 L134.6 166.6Z M125.1 175.6 L130.1 174.3 L136.4 175.1 L135.6 177.1 L129.6 177.4Z M112.6 205.2 L120.1 203.2 L130.1 202.2 L140.1 201.4 L145.2 198.9 L150.2 198.9 L152.2 202.2 L147.7 204.7 L140.1 205.7 L132.6 207.2 L123.9 207.7 L123.1 212.7 L118.8 213.2 L116.3 209.7 L112.6 207.7Z M73.8 221.4 L82.5 220.2 L88.8 221.4 L90.0 226.5 L87.5 231.5 L90.0 234.7 L85.0 236.5 L80.0 235.2 L73.8 236.5Z M113.8 220.2 L120.1 217.2 L130.1 217.2 L138.9 218.2 L143.9 221.4 L145.2 225.2 L150.2 226.5 L152.7 223.9 L160.2 221.4 L165.2 220.2 L166.4 223.2 L161.4 225.7 L155.2 227.7 L150.2 231.5 L145.2 235.2 L137.6 234.0 L132.6 231.5 L127.6 229.0 L121.4 226.5 L116.3 224.7 L113.8 222.7Z M181.5 221.4 L185.2 219.7 L191.5 220.2 L192.7 222.7 L186.5 223.7 L182.2 223.2Z M103.8 230.7 L107.1 230.0 L110.1 231.2 L107.1 232.5Z M115.1 239.0 L117.6 238.2 L120.1 239.5 L117.6 240.5Z M73.8 238.2 L80.0 239.0 L82.5 242.7 L81.3 247.2 L73.8 248.2Z M91.3 250.3 L96.3 248.2 L103.8 249.0 L110.1 249.7 L111.3 252.8 L105.1 254.8 L97.6 254.0 L92.5 252.8Z M128.9 252.8 L133.9 250.3 L141.4 249.0 L147.7 246.5 L153.9 242.7 L157.7 240.2 L165.2 240.7 L171.5 243.2 L176.5 244.7 L177.7 239.0 L176.5 232.7 L181.5 230.2 L187.7 229.7 L186.5 235.2 L184.0 242.7 L185.2 247.7 L192.7 247.2 L200.3 246.5 L206.5 247.7 L212.8 249.0 L215.8 252.3 L212.8 256.5 L206.5 259.0 L200.3 262.8 L194.0 263.3 L187.7 260.3 L181.5 257.8 L175.2 259.0 L170.2 262.3 L166.4 263.3 L162.7 260.3 L156.4 257.8 L150.2 256.5 L143.9 255.8 L137.6 255.8 L131.4 255.3Z M73.8 254.0 L82.5 252.8 L90.0 254.0 L95.1 256.5 L93.8 260.3 L88.8 262.3 L90.0 266.5 L95.1 270.3 L100.1 274.0 L98.8 277.8 L92.5 280.3 L87.5 281.6 L82.5 279.1 L78.8 275.3 L73.8 274.8Z M127.6 265.3 L133.9 262.8 L142.6 263.3 L150.2 264.0 L152.7 267.8 L147.7 270.3 L145.2 274.0 L148.9 276.6 L150.2 279.8 L143.9 280.8 L140.1 277.8 L137.6 274.0 L135.1 270.3 L130.1 269.0Z M105.1 277.8 L112.6 275.8 L120.1 275.3 L128.9 275.8 L135.6 277.3 L133.9 280.3 L125.1 281.6 L116.3 281.6 L108.8 280.8Z M212.8 227.7 L216.5 224.7 L222.8 223.9 L226.6 225.7 L224.1 229.0 L217.8 230.2Z M234.1 229.0 L240.3 226.5 L242.8 223.9 L245.4 227.2 L250.4 229.7 L246.6 232.2 L239.1 232.2Z M211.5 241.5 L216.5 237.7 L224.1 235.7 L231.6 235.2 L236.6 237.2 L241.6 240.7 L242.8 244.7 L236.6 247.2 L229.1 247.7 L221.6 246.5 L215.3 244.7Z M272.4 172.6 L275.4 171.1 L278.4 172.6 L275.9 174.6Z M189.7 272.3 L194.0 270.8 L197.3 273.3 L194.0 275.8 L190.2 274.8Z M260.4 248.2 L264.1 247.2 L267.9 249.0 L264.9 250.8Z M75.8 286.3 L80.0 284.3 L85.8 283.3 L91.5 284.3 L96.6 286.3 L100.1 289.3 L100.8 292.8 L98.6 295.8 L95.1 297.8 L91.5 299.3 L87.0 300.1 L82.8 299.3 L78.5 300.6 L77.8 305.1 L78.5 310.6 L73.8 312.9 L73.8 286.3Z M126.4 305.4 L130.1 292.8 L135.1 289.1 L145.2 286.6 L157.7 282.8 L170.2 279.1 L180.2 277.8 L187.7 280.3 L190.2 285.3 L187.7 295.3 L180.2 305.4Z M230.3 269.0 L235.3 267.8 L238.3 270.3 L235.3 273.3 L231.6 272.8Z" fill="#ffd96f" fill-rule="nonzero"/>
<path d="M128.3 509.5 L133.2 509.1 L135.6 515.0 L137.4 520.5 L139.3 524.1 L135.6 529.3 L132.0 532.9 L127.2 534.0 L125.0 530.6 L128.7 526.0Z M80.1 530.6 L85.6 531.8 L89.8 533.3 L88.0 535.9 L82.8 536.6 L80.1 534.2Z M147.9 482.0 L150.6 477.4 L154.7 471.4 L158.0 467.7 L160.7 471.0 L165.3 475.6 L161.6 482.0 L159.8 489.3 L158.9 496.7 L158.9 505.8 L158.0 515.0 L155.2 515.0 L153.4 508.6 L152.1 502.2 L150.6 496.7 L148.8 489.3Z M88.3 563.6 L91.1 559.9 L94.7 556.2 L95.7 551.6 L97.5 549.4 L101.2 549.4 L102.1 552.6 L100.2 556.2 L101.2 559.9 L103.0 562.6 L100.2 565.4 L95.7 566.3 L91.1 566.7Z M120.4 567.8 L124.1 567.0 L127.7 568.1 L125.0 569.6 L121.3 569.2Z M150.6 564.1 L152.8 563.6 L154.3 564.8 L152.1 565.9Z" fill="#ffd96f" fill-rule="nonzero"/>
<path d="M83.7 613.2 L88.3 611.4 L93.8 612.3 L97.5 614.1 L95.7 623.3 L92.0 628.8 L88.3 630.6 L85.6 627.0 L84.3 622.4 L83.2 617.8Z M73.7 644.4 L80.1 643.5 L84.7 645.3 L83.7 649.9 L81.0 654.5 L73.7 654.5Z M75.5 634.7 L77.3 633.9 L78.4 635.4 L76.6 636.3Z M176.3 585.7 L179.1 582.6 L182.7 580.2 L186.4 578.4 L190.1 576.6 L192.4 577.5 L191.0 581.2 L188.2 584.5 L184.6 586.3 L180.0 587.0Z M168.1 584.5 L169.9 583.5 L171.2 585.2 L169.0 586.1Z M170.4 579.3 L172.3 578.6 L173.6 580.2 L171.4 580.8Z M180.0 598.6 L183.6 594.0 L188.2 587.6 L191.9 580.2 L193.2 577.5 L194.6 578.4 L192.8 584.8 L189.1 591.2 L184.6 597.7 L180.9 600.4Z" fill="#ffd96f" fill-rule="nonzero"/>
<path d="M403.6 552.1 L523.6 552.1 L535.7 569.3 L535.7 592.1 L527.9 587.9 L523.6 583.6 L520.7 585.7 L515.0 590.0 L509.3 592.1 L505.0 594.3 L500.7 596.4 L503.6 599.3 L509.3 600.7 L515.0 602.1 L516.4 605.0 L512.1 607.9 L506.4 610.7 L505.0 615.0 L505.7 620.0 L507.9 623.6 L512.1 626.4 L513.6 630.7 L509.3 632.9 L503.6 635.0 L500.7 637.9 L495.0 639.3 L480.7 636.4 L466.4 629.3 L452.1 619.3 L437.9 615.0 L423.6 612.1 L409.3 605.0 L400.7 597.9 L400.7 569.3Z" fill="#ffd96f" fill-rule="nonzero"/>
<path d="M476.4 552.9 L480.0 550.0 L484.3 548.6 L488.6 547.1 L492.9 545.7 L497.1 544.0 L501.4 542.9 L504.7 545.0 L507.6 547.9 L510.7 550.7 L497.9 551.4 L490.7 555.0 L488.6 557.9 L487.1 560.3 L483.6 561.7 L480.7 559.3 L478.6 556.0Z M512.9 567.9 L515.0 565.7 L518.6 564.6 L520.7 562.9 L523.6 561.4 L523.6 557.1 L525.0 555.0 L527.9 555.7 L530.7 558.6 L535.0 559.3 L539.3 560.0 L543.6 560.7 L547.9 561.4 L551.4 563.6 L553.6 566.4 L557.1 567.1 L561.4 570.7 L563.6 574.3 L560.7 573.6 L557.1 570.7 L554.3 569.3 L552.1 570.7 L550.4 573.6 L546.4 574.3 L540.7 577.4 L532.9 577.4 L527.1 573.4 L519.3 571.4 L515.0 570.3Z M552.1 585.7 L554.3 588.6 L553.6 592.1 L550.7 594.0 L547.9 595.0 L546.4 597.1 L548.6 598.6 L553.6 597.9 L557.9 597.9 L562.1 598.6 L565.7 600.0 L567.9 602.9 L569.3 605.0 L573.6 605.7 L577.9 606.0 L582.1 607.1 L586.4 608.6 L590.0 610.7 L589.3 612.9 L585.7 613.6 L581.4 613.1 L577.1 612.1 L572.9 611.1 L569.3 610.7 L565.7 611.1 L562.1 610.0 L558.6 608.3 L555.7 606.4 L553.6 603.6 L552.1 600.7 L549.3 600.0 L546.4 600.7 L543.6 602.9 L542.1 605.7 L540.0 606.0 L539.3 602.9 L540.0 599.3 L541.4 596.4 L540.7 593.1 L535.0 589.3 L533.3 587.4 L536.4 586.0 L543.6 586.0 L550.7 587.1Z M455.0 568.6 L459.3 565.7 L463.6 565.0 L467.9 567.1 L470.0 570.7 L476.4 582.9 L483.6 600.0 L497.9 608.6 L502.9 610.7 L504.3 611.4 L505.0 614.3 L507.1 617.9 L510.0 621.4 L512.1 625.7 L511.4 629.3 L508.6 631.4 L505.0 632.6 L500.7 633.6 L496.4 634.6 L492.1 635.4 L487.9 635.0 L483.6 633.6 L480.0 631.4 L476.4 628.6 L473.6 625.7 L470.7 622.9 L467.9 620.0 L464.3 617.9 L460.7 616.4 L457.1 615.0 L455.0 614.3Z" fill="#ffd96f" fill-rule="nonzero"/>
<path d="M282.7 551.0 L283.6 546.2 L285.1 542.2 L290.7 538.7 L299.0 535.6 L307.0 532.4 L315.1 530.4 L320.2 522.7 L323.4 520.7 L317.1 513.6 L309.6 509.5 L301.4 510.4 L307.0 507.0 L315.1 503.8 L319.1 502.9 L324.3 507.0 L329.4 508.4 L330.3 511.0 L334.0 512.8 L338.6 513.7 L343.2 512.8 L347.7 510.1 L349.6 508.2 L354.1 507.7 L358.7 509.2 L360.6 512.8 L362.4 516.5 L366.1 518.3 L368.8 520.2 L367.0 522.0 L370.6 525.7 L373.4 529.3 L374.3 533.9 L372.5 537.6 L370.6 541.2 L373.4 544.0 L378.9 544.9 L384.4 545.8 L389.9 544.9 L394.5 542.2 L399.1 539.4 L403.6 536.7 L407.3 535.7 L405.5 538.5 L402.7 541.2 L404.6 544.0 L409.1 542.2 L414.6 541.8 L420.1 543.1 L425.6 544.0 L428.4 547.7 L427.5 552.2 L425.6 556.8 L422.0 558.7 L418.3 559.6 L414.6 560.5 L409.1 561.4 L407.3 566.0 L289.1 566.3 L284.9 563.8 L286.3 560.1 L283.0 556.5Z M425.6 536.7 L431.1 534.8 L436.6 533.9 L442.1 533.0 L447.6 531.2 L452.2 528.4 L455.0 525.7 L457.7 522.9 L462.3 522.0 L466.9 521.6 L471.5 522.0 L471.5 543.1 L466.0 544.0 L461.4 544.9 L457.7 544.0 L455.9 541.2 L452.2 539.4 L447.6 538.9 L442.1 539.4 L436.6 540.0 L431.1 539.4 L427.5 538.5Z M436.6 513.7 L441.2 512.8 L446.7 513.7 L451.3 516.5 L447.6 517.4 L443.0 516.5 L438.5 515.6Z" fill="#ffd96f" fill-rule="nonzero"/>
<path d="M439.3 578.0 L442.0 574.0 L446.6 571.2 L452.1 567.6 L457.6 564.8 L465.0 563.9 L472.3 563.0 L480.0 562.1 L480.0 590.5 L465.0 590.5 L461.3 585.0 L455.8 583.2 L450.3 585.0 L444.8 586.8 L440.2 583.2Z M407.2 571.2 L410.9 569.4 L415.5 568.5 L419.1 571.2 L417.3 574.9 L420.1 578.0 L426.5 579.5 L432.0 581.3 L437.5 580.4 L441.1 576.7 L444.8 581.3 L439.3 585.0 L428.3 585.0 L417.3 583.2 L410.0 578.0Z" fill="#ffd96f" fill-rule="nonzero"/>
<path d="M356.8 479.4 L361.4 476.7 L366.0 474.8 L371.5 473.0 L376.1 470.2 L379.7 467.5 L383.4 465.7 L388.0 465.3 L391.6 466.6 L389.8 469.3 L386.1 471.2 L382.5 472.1 L378.8 471.5 L375.1 473.4 L370.6 475.2 L366.0 476.7 L361.4 478.5Z M393.5 484.9 L397.1 483.1 L402.6 482.5 L408.1 483.6 L412.7 486.7 L416.4 490.4 L413.6 492.2 L409.1 493.2 L403.6 492.8 L399.0 493.5 L395.3 495.0 L393.8 491.3Z M452.1 463.8 L455.8 462.0 L460.4 462.9 L463.1 466.6 L465.9 470.2 L467.7 474.8 L470.5 478.5 L473.2 483.1 L474.1 486.7 L470.5 488.0 L465.9 487.3 L462.2 488.6 L458.5 487.7 L455.4 484.9 L453.0 481.2 L454.0 476.7 L455.8 473.0 L454.9 468.4Z M300.0 509.6 L305.5 507.8 L311.0 505.1 L316.5 503.2 L319.2 505.1 L322.9 506.9 L327.5 506.3 L330.2 508.7 L333.0 512.4 L336.7 514.2 L327.5 517.0 L320.2 512.4 L312.8 511.5 L305.5 512.4 L300.0 515.1Z" fill="#ffd96f" fill-rule="nonzero"/>
<path d="M555.0 598.6 L559.3 597.9 L563.6 598.6 L567.1 600.7 L569.3 603.6 L573.6 605.0 L577.9 604.3 L582.1 605.7 L586.4 607.1 L590.7 607.9 L591.4 610.7 L589.3 613.3 L585.0 613.9 L580.7 613.3 L576.4 612.1 L572.1 610.7 L568.6 611.4 L565.0 610.0 L560.7 608.6 L557.1 607.1 L555.0 606.4Z M578.6 596.1 L582.1 595.3 L585.7 596.4 L584.3 597.9 L580.0 597.9Z M595.0 615.0 L597.9 612.1 L600.7 609.3 L602.1 605.7 L604.3 602.1 L607.1 600.7 L612.1 601.4 L617.9 602.1 L621.4 600.7 L624.3 598.6 L627.1 595.7 L629.3 594.7 L630.0 596.4 L627.9 599.3 L625.7 602.1 L627.9 604.3 L630.7 605.7 L632.9 608.6 L629.3 609.3 L625.7 610.0 L623.6 612.1 L622.1 615.0 L622.9 618.6 L625.0 621.4 L627.9 622.9 L629.3 620.7 L630.7 617.1 L633.6 615.0 L636.4 616.4 L637.9 620.0 L639.3 622.9 L642.1 624.3 L643.6 626.4 L640.7 627.1 L637.9 625.0 L635.0 624.3 L632.1 625.7 L627.9 626.4 L623.6 627.1 L620.0 625.7 L616.4 624.3 L612.9 622.9 L610.7 620.7 L614.3 620.0 L617.1 617.9 L616.4 614.3 L614.3 612.1 L610.7 612.4 L607.1 613.6 L603.6 615.0 L599.3 616.4 L595.7 616.7Z M652.9 595.0 L655.0 592.9 L657.1 592.4 L656.4 595.7 L654.3 597.9Z" fill="#ffd96f" fill-rule="nonzero"/>
<path d="M668.4 563.6 L671.5 563.2 L675.5 563.6 L679.6 564.6 L683.7 566.0 L687.3 568.0 L688.3 570.5 L686.7 572.6 L683.7 573.1 L679.6 572.8 L676.6 572.1 L673.5 570.5 L671.0 568.5 L669.4 566.0Z M636.3 566.7 L638.9 565.7 L641.9 565.5 L645.0 566.0 L647.5 567.5 L647.0 570.5 L645.0 571.8 L641.9 572.1 L638.9 571.6 L637.0 570.0Z M625.6 561.6 L628.7 561.2 L632.8 560.9 L636.3 560.9 L637.9 561.4 L636.8 562.6 L632.8 562.6 L628.7 562.9 L625.6 562.9Z" fill="#ffd96f" fill-rule="nonzero"/>
<path d="M564.3 515.5 L566.3 514.2 L567.9 514.4 L568.7 516.7 L569.9 519.5 L571.9 520.5 L570.4 522.6 L567.9 521.6 L565.8 519.5 L564.6 517.5Z M575.5 519.0 L578.0 518.3 L581.1 519.0 L582.1 521.1 L579.6 521.6 L577.0 521.1Z M526.1 528.7 L529.2 529.2 L532.2 530.7 L535.3 532.8 L538.3 534.8 L540.9 536.8 L543.4 539.9 L546.0 542.4 L544.4 544.0 L541.9 542.4 L539.3 540.4 L536.8 537.9 L534.3 536.3 L531.7 534.8 L529.2 533.3 L526.6 531.2Z" fill="#ffd96f" fill-rule="nonzero"/>
<path d="M548.5 552.2 L550.5 555.3 L553.1 560.9 L555.1 563.9 L560.7 570.5 L564.8 575.1 L563.8 575.6 L560.2 572.6 L555.6 566.5 L552.6 562.9 L550.0 558.3 L547.5 554.3Z" fill="#ffd96f" fill-rule="nonzero"/>
<path d="M453.7 465.7 L457.4 462.9 L462.0 464.7 L464.7 469.3 L463.8 474.8 L466.6 479.4 L471.2 481.2 L473.9 484.9 L472.1 488.0 L467.5 488.6 L462.9 487.3 L459.2 484.9 L455.6 481.2 L452.8 477.6 L451.0 473.9 L453.7 470.2Z M496.8 494.1 L500.5 492.2 L506.0 491.3 L510.6 490.4 L515.1 492.2 L520.6 495.9 L523.4 498.7 L518.8 499.6 L513.3 498.3 L507.8 497.2 L502.3 498.7 L498.3 498.3Z M526.1 521.6 L529.8 524.3 L533.5 528.0 L537.1 531.6 L540.8 534.9 L545.4 539.0 L550.0 544.5 L548.1 546.3 L542.6 542.6 L538.1 539.0 L533.5 535.3 L529.8 531.6 L526.1 527.1Z M440.0 514.2 L445.5 513.3 L451.0 515.1 L456.5 517.0 L454.7 519.7 L449.2 519.2 L443.7 518.4 L440.0 517.9Z M440.0 533.5 L444.6 530.7 L451.0 528.0 L456.5 524.7 L460.2 522.5 L465.7 523.4 L470.2 527.1 L474.8 530.7 L477.6 535.3 L478.5 539.9 L475.7 543.6 L471.2 545.4 L465.7 546.3 L458.3 545.4 L451.0 544.8 L445.5 545.9 L440.0 547.2Z" fill="#ffd96f" fill-rule="nonzero"/>
<path d="M318.2 255.9 L322.7 255.0 L324.0 258.7 L323.3 263.2 L318.2 264.1Z M384.1 295.3 L389.6 293.5 L394.2 292.6 L396.1 295.3 L393.3 298.1 L387.8 299.0 L384.1 298.1Z" fill="#ffd96f" fill-rule="nonzero"/>
<path d="M405.1 300.3 L408.7 297.2 L412.8 294.2 L417.9 292.6 L421.9 291.1 L424.0 293.1 L427.5 297.7 L432.6 302.8 L437.7 305.9 L438.4 307.9 L435.2 311.5 L432.1 312.5 L429.1 313.0 L426.0 314.5 L424.0 316.6 L422.4 314.5 L420.4 315.5 L417.9 317.1 L415.8 319.6 L414.8 322.7 L415.8 325.7 L417.9 327.3 L423.0 327.8 L423.5 330.8 L417.9 331.3 L414.8 329.8 L413.8 332.9 L414.8 334.9 L412.8 335.9 L407.7 334.9 L401.6 333.9 L400.0 332.9 L400.5 330.8 L397.5 327.8 L394.9 325.7 L395.5 321.2 L398.0 317.6 L402.6 314.5 L406.2 312.0 L410.7 311.0 L411.8 309.4 L407.7 307.4 L405.6 306.4Z M384.3 300.3 L387.3 297.2 L391.4 294.7 L395.5 293.1 L399.5 292.6 L402.6 293.4 L400.5 294.7 L396.5 295.7 L392.4 297.7 L388.3 299.3Z M374.1 325.7 L376.1 323.7 L379.2 323.2 L381.7 324.2 L383.2 326.8 L382.7 329.8 L380.7 332.4 L378.1 332.9 L375.6 331.3 L374.3 328.8Z M376.1 343.0 L378.1 341.5 L381.2 342.0 L382.7 344.1 L381.7 346.1 L379.7 345.1 L377.1 345.9Z M448.9 332.9 L451.5 331.8 L454.5 332.0 L457.4 333.4 L456.6 335.4 L453.5 335.9 L450.4 335.4Z M450.4 340.0 L454.5 341.5 L458.6 342.0 L460.1 343.6 L457.6 344.3 L454.0 343.9 L451.5 342.2Z M370.0 320.8 L371.2 320.4 L372.0 321.5 L370.8 322.2Z M372.5 309.6 L373.7 309.2 L374.3 310.5 L373.1 310.9Z" fill="#ffd96f" fill-rule="nonzero"/>
<path d="M490.4 317.5 L494.1 316.6 L495.9 319.0 L493.2 320.8 L491.0 319.7Z" fill="#ffd96f" fill-rule="nonzero"/>
<path d="M490.6 318.2 L493.7 316.9 L496.1 318.8 L493.7 321.0 L491.0 320.2Z" fill="#ffd96f" fill-rule="nonzero"/>
<path d="M287.6 326.4 L291.2 325.5 L294.0 328.2 L298.0 331.9 L300.4 335.6 L296.7 336.9 L293.1 334.3 L289.4 331.0Z M306.8 336.5 L311.4 334.3 L316.0 331.9 L320.6 330.1 L323.3 331.4 L322.4 334.3 L317.8 335.6 L313.2 337.4 L308.7 338.7Z" fill="#ffd96f" fill-rule="nonzero"/>
<path d="M378.6 156.3 L383.6 155.1 L389.9 154.6 L391.2 156.6 L386.1 157.6 L379.9 158.1Z" fill="#ffd96f" fill-rule="nonzero"/>
<path d="M723.6 442.9 L725.7 440.7 L730.0 438.3 L735.0 436.0 L740.0 435.0 L745.7 434.3 L751.4 433.1 L756.4 431.7 L761.4 430.3 L767.1 429.3 L772.9 428.3 L777.1 427.9 L780.7 427.9 L781.7 429.7 L779.3 431.1 L775.0 432.1 L770.7 433.6 L766.4 435.0 L762.9 436.4 L763.6 438.6 L767.1 440.7 L770.7 442.6 L768.6 443.6 L765.0 444.3 L762.9 445.7 L760.7 447.9 L759.3 450.0 L757.1 451.4 L753.6 452.6 L750.0 453.1 L747.9 455.0 L745.7 453.6 L744.3 452.1 L740.0 451.7 L735.7 452.1 L732.1 453.1 L729.3 451.4 L726.4 448.6 L724.3 445.7Z" fill="#ffd96f" fill-rule="nonzero"/>
<path d="M808.6 145.0 L812.9 142.9 L818.6 141.9 L824.3 141.0 L831.4 140.0 L831.4 144.3 L825.7 145.0 L821.4 146.4 L817.1 148.6 L812.9 149.6 L809.3 148.6 L807.9 146.4Z M812.9 155.7 L817.1 154.3 L822.9 154.3 L831.4 154.3 L831.4 159.3 L825.7 159.6 L821.4 159.0 L817.1 158.6 L814.3 160.0 L811.4 160.4 L813.1 158.1Z" fill="#ffd96f" fill-rule="nonzero"/>
<path d="M277.9 266.4 L281.4 265.0 L285.7 263.6 L290.0 262.4 L294.3 260.7 L298.6 257.9 L302.9 255.0 L305.7 252.9 L308.6 254.3 L310.7 257.9 L311.4 263.6 L312.1 269.3 L313.6 273.6 L315.0 277.1 L317.1 280.7 L320.7 282.9 L325.7 285.0 L331.4 287.1 L337.1 289.3 L342.9 291.4 L348.6 293.3 L354.3 294.3 L360.0 294.7 L365.7 294.3 L371.4 293.9 L377.1 293.6 L380.7 293.3 L380.7 296.4 L375.7 297.1 L370.0 297.6 L364.3 298.1 L358.6 298.6 L352.9 297.9 L347.1 296.4 L341.4 295.0 L335.7 292.9 L330.0 291.0 L324.3 289.0 L319.3 286.7 L315.0 283.9 L312.9 280.7 L310.7 277.1 L307.1 275.0 L302.9 274.3 L298.6 273.6 L294.3 274.3 L290.0 274.3 L286.4 272.9 L282.9 270.7 L279.3 268.6Z M320.0 260.7 L322.1 254.3 L323.6 255.7 L324.3 260.0 L325.7 262.4 L322.9 264.3 L320.3 263.6Z M240.0 228.1 L244.3 228.6 L248.6 229.6 L250.0 231.0 L245.7 231.9 L240.0 231.4Z M260.0 249.3 L264.3 248.6 L268.6 248.1 L267.9 249.6 L262.9 251.0Z M328.6 248.6 L331.4 246.4 L334.3 245.7 L340.0 247.9 L340.0 272.1 L347.1 275.0 L342.9 273.6 L339.3 270.0 L337.1 265.7 L335.4 260.7 L334.3 255.7 L333.6 251.4Z" fill="#ffd96f" fill-rule="nonzero"/>
<path d="M282.6 523.8 L285.1 522.8 L287.2 524.8 L287.9 527.9 L289.2 530.9 L290.7 533.0 L289.2 534.5 L287.2 533.0 L285.1 529.9 L283.6 526.8Z" fill="#ffd96f" fill-rule="nonzero"/>
<path d="M256.1 556.6 L258.3 554.2 L262.3 553.5 L265.3 555.7 L263.4 559.0 L259.2 559.3Z" fill="#ffd96f" fill-rule="nonzero"/>
<path d="M525.2 527.2 L528.7 526.4 L533.0 529.8 L537.3 533.3 L539.9 537.6 L542.5 540.2 L546.0 541.9 L548.6 545.4 L551.2 549.7 L553.8 554.9 L557.2 561.0 L561.6 566.2 L564.1 571.4 L563.3 574.8 L559.0 571.4 L554.6 566.2 L551.2 562.7 L547.7 559.3 L542.5 556.7 L539.0 553.2 L535.6 548.9 L533.0 543.7 L530.4 538.5 L527.8 534.1 L525.2 531.6Z M520.0 554.9 L525.2 554.1 L530.4 555.8 L535.6 558.4 L540.8 559.3 L546.0 561.0 L550.3 564.4 L554.6 567.0 L559.0 569.6 L562.4 573.1 L559.0 574.8 L554.6 573.1 L552.0 574.8 L553.8 580.0 L554.6 587.0 L552.9 592.1 L547.7 593.9 L540.8 600.8 L539.0 606.0 L540.8 611.2 L537.3 611.2 L536.4 604.3 L537.3 597.3 L533.9 593.9 L526.9 593.0 L520.0 593.9Z" fill="#ffd96f" fill-rule="nonzero"/>
<path d="M248.2 383.2 L257.3 382.0 L264.7 381.4 L272.0 382.0 L279.3 382.3 L286.7 383.2 L288.9 384.5 L286.7 386.3 L281.2 387.8 L275.7 389.6 L270.2 391.8 L264.7 393.3 L257.3 393.7 L248.2 392.9Z" fill="#ffd96f" fill-rule="nonzero"/>
<path d="M393.4 294.4 L396.5 293.6 L400.5 292.9 L404.6 292.3 L407.9 291.7 L407.5 294.0 L403.6 294.7 L399.5 295.2 L396.0 296.0 L393.6 296.4Z" fill="#ffd96f" fill-rule="nonzero"/>
<path d="M75.5 385.2 L80.0 385.7 L82.0 388.9 L80.0 392.7 L75.5 393.2Z M107.6 405.2 L111.3 403.2 L117.1 404.7 L116.3 407.7 L110.1 408.2Z M111.3 455.3 L116.3 452.8 L122.6 454.1 L123.9 457.8 L118.8 459.8 L113.1 458.3Z M105.1 445.8 L108.8 444.8 L112.6 446.3 L110.1 448.3 L106.3 447.8Z M235.8 399.0 L240.3 397.2 L245.9 398.2 L247.9 402.2 L245.4 405.2 L239.8 405.7 L235.8 403.2Z M152.7 430.3 L156.4 429.0 L160.2 431.5 L157.7 433.3 L153.9 432.8Z M142.6 412.2 L145.2 410.7 L148.2 412.7 L145.7 414.7Z" fill="#ffffff" fill-rule="nonzero"/>
<path d="M169.9 438.2 L174.1 439.3 L172.3 443.3 L167.5 447.0 L163.8 450.6 L162.7 456.1 L165.3 460.2 L158.0 469.0 L154.3 472.6 L149.7 478.1 L147.0 483.6 L145.1 491.0 L144.2 498.3 L138.7 498.3 L140.6 487.3 L142.4 480.0 L144.2 473.6 L147.0 468.1 L150.6 462.6 L153.4 457.1 L156.1 451.6 L159.8 446.1 L164.4 441.5Z M108.5 405.7 L111.2 403.9 L115.8 403.9 L118.0 405.7 L114.9 407.6 L110.3 407.6Z M110.3 454.7 L114.9 452.8 L120.4 452.1 L124.1 454.3 L123.2 458.0 L118.6 459.8 L114.0 458.3Z M104.8 445.1 L108.5 444.2 L113.1 446.1 L111.2 447.9 L106.7 447.3Z M141.8 458.0 L145.1 457.1 L148.4 459.4 L146.1 461.6 L142.4 460.7Z M179.1 428.7 L181.8 427.7 L184.6 429.6 L182.2 431.4 L179.6 430.9Z M151.6 426.5 L154.3 425.9 L159.8 430.9 L158.0 432.3 L153.4 429.0Z M206.5 440.6 L209.3 439.6 L211.5 441.8 L209.3 443.7 L207.1 442.9Z" fill="#ffffff" fill-rule="nonzero"/>
<path d="M416.4 566.4 L419.3 563.6 L423.6 560.7 L429.3 559.3 L436.4 558.6 L443.6 559.3 L449.3 561.4 L453.6 564.3 L456.4 567.9 L454.3 570.7 L450.7 572.1 L446.4 572.9 L442.9 575.0 L440.7 577.9 L439.3 581.4 L436.4 583.6 L433.6 582.1 L430.7 580.0 L426.4 578.6 L422.9 576.4 L419.3 574.3 L417.1 570.7Z M444.3 593.6 L447.1 590.7 L451.4 589.3 L455.7 590.7 L457.9 594.3 L456.4 597.9 L454.3 601.4 L453.6 605.0 L450.7 607.1 L447.1 607.1 L445.0 605.0 L447.1 602.1 L447.9 598.6 L445.7 596.4Z M405.0 592.1 L409.3 588.6 L413.6 585.7 L418.6 584.3 L422.9 585.7 L421.4 589.3 L417.9 592.1 L415.0 595.7 L411.4 597.9 L407.9 598.6 L405.0 596.4Z M455.0 611.4 L458.6 610.0 L462.9 611.4 L466.4 613.6 L470.7 616.4 L475.0 620.7 L479.3 625.0 L480.7 628.6 L477.9 629.3 L474.3 626.4 L470.7 623.6 L466.4 620.0 L462.1 617.1 L457.9 615.0Z" fill="#ffffff" fill-rule="nonzero"/>
<path d="M472.1 621.4 L475.0 620.0 L477.9 621.4 L480.0 624.3 L481.4 627.9 L480.0 630.0 L477.1 628.6 L474.3 625.7Z" fill="#ffffff" fill-rule="nonzero"/>
<path d="M290.9 555.0 L293.7 551.0 L298.2 548.6 L303.7 548.2 L308.3 549.9 L312.0 553.2 L312.9 556.8 L310.2 560.5 L305.6 562.3 L300.1 563.2 L295.5 564.1 L290.9 564.5Z M350.5 544.9 L352.3 541.2 L354.5 541.2 L355.1 544.9 L353.2 548.0 L351.4 547.7Z M360.6 548.0 L364.2 545.8 L369.7 545.8 L374.3 547.3 L376.1 549.9 L372.5 551.7 L367.0 552.2 L362.4 551.3Z M352.3 549.5 L356.0 550.4 L360.6 552.2 L358.7 553.5 L354.1 552.2Z M323.9 555.4 L325.7 554.8 L326.8 556.1 L324.8 556.8Z" fill="#ffffff" fill-rule="nonzero"/>
<path d="M443.7 539.9 L448.2 538.6 L453.7 539.3 L456.5 541.7 L452.8 544.1 L447.3 544.1 L444.0 542.6Z" fill="#ffffff" fill-rule="nonzero"/>
<path d="M410.2 302.3 L412.3 301.8 L413.8 303.8 L412.8 305.4 L410.7 304.9Z M419.7 296.7 L421.9 295.7 L424.0 297.0 L423.5 299.1 L420.9 299.3Z" fill="#ffffff" fill-rule="nonzero"/>
<path d="M730.7 451.4 L733.6 447.9 L736.4 444.3 L738.6 440.7 L740.7 438.6 L742.9 440.7 L745.0 442.1 L747.9 440.7 L750.0 442.1 L752.1 444.3 L755.0 446.4 L757.1 449.3 L756.4 451.4 L753.6 452.6 L750.0 453.1 L745.7 453.6 L744.3 452.1 L740.0 451.7 L735.7 452.1 L732.1 453.1Z" fill="#ffffff" fill-rule="nonzero"/>
<path d="M295.8 551.3 L298.9 548.2 L303.0 547.2 L307.0 548.2 L309.1 551.3Z" fill="#ffffff" fill-rule="nonzero"/>
<path d="M75.5 333.8 L81.3 333.1 L87.5 332.1 L93.8 331.3 L98.8 332.1 L103.8 334.6 L107.6 337.6 L111.3 336.3 L110.1 331.3 L105.1 327.6 L100.1 325.1 L101.3 322.1 L107.6 323.8 L115.1 325.1 L120.1 322.6 L125.1 319.6 L130.1 316.3 L132.6 312.5 L135.6 310.0 L141.4 310.5 L147.7 312.5 L152.7 313.8 L157.7 312.0 L160.7 308.8 L163.9 305.0 L166.4 302.0 L170.2 299.5 L173.2 301.3 L170.2 305.5 L166.4 310.0 L162.2 314.5 L163.2 317.1 L168.9 318.1 L175.2 315.1 L181.5 312.5 L187.7 312.5 L195.3 313.8 L202.8 313.0 L209.0 315.1 L211.5 322.6 L210.3 330.1 L217.8 330.6 L222.8 333.1 L226.6 337.6 L227.3 342.6 L225.3 347.1 L220.3 349.6 L214.0 350.6 L210.3 352.6 L214.0 357.6 L215.3 363.9 L214.8 370.2 L212.8 375.2 L210.8 378.2 L210.3 388.9 L212.8 390.2 L219.0 391.5 L223.3 394.7 L221.6 398.2 L216.5 400.2 L210.3 401.5 L205.3 402.7 L201.5 405.7 L196.5 409.7 L192.7 406.5 L187.7 405.7 L182.7 407.7 L177.7 409.7 L174.0 412.7 L175.2 416.5 L171.5 419.0 L166.4 417.8 L161.4 416.5 L156.4 415.3 L151.4 414.0 L146.4 411.5 L141.4 409.7 L136.4 408.2 L131.4 406.5 L126.4 402.7 L123.9 399.0 L121.4 395.2 L116.3 394.7 L110.1 395.7 L103.8 396.5 L99.6 399.0 L101.3 403.2 L105.1 406.5 L107.6 411.5 L108.8 416.5 L105.1 419.0 L100.1 418.3 L95.1 420.3 L90.0 421.5 L85.0 420.3 L80.0 421.5 L73.8 422.8Z M198.3 409.0 L201.5 407.2 L204.8 410.2 L207.3 414.7 L207.8 418.3 L204.8 419.0 L201.5 415.3 L199.0 412.2Z M185.7 421.5 L189.0 418.3 L194.0 419.0 L199.0 422.3 L202.3 426.5 L200.3 429.8 L195.3 429.0 L190.2 426.5 L186.5 424.8Z M134.6 416.5 L138.9 414.0 L143.9 415.3 L146.4 419.0 L145.2 424.0 L142.6 426.5 L139.6 422.8 L136.4 419.8Z M73.8 432.3 L81.3 431.5 L87.5 433.3 L90.0 437.8 L88.0 441.6 L85.0 445.8 L81.3 444.8 L78.8 440.3 L73.8 439.0Z M210.3 434.8 L213.3 433.8 L215.3 436.3 L212.3 437.8Z M268.4 322.6 L271.7 320.1 L275.9 320.6 L278.4 319.6 L281.7 321.3 L279.2 324.6 L275.9 327.1 L271.7 327.6 L269.1 325.6Z M234.1 385.2 L240.3 383.2 L246.6 383.9 L252.9 382.2 L259.1 383.2 L260.4 386.4 L255.4 388.2 L249.1 389.2 L242.8 388.9 L237.3 387.7Z M209.3 356.4 L212.8 355.1 L214.8 358.1 L212.3 360.1 L209.3 359.1Z" fill="#ff6933" fill-rule="nonzero"/>
<path d="M259.1 230.2 L264.1 229.0 L270.4 229.0 L276.7 229.7 L277.9 232.2 L272.9 234.0 L266.6 233.2 L261.6 232.2Z M260.4 241.2 L264.1 240.5 L267.9 241.7 L264.9 243.2 L260.9 242.7Z M270.4 244.5 L274.9 243.7 L279.2 245.2 L275.4 246.7 L270.9 246.2Z M285.4 242.7 L290.4 241.5 L295.5 244.0 L299.2 246.5 L303.0 250.3 L305.5 254.0 L301.7 256.5 L296.7 255.3 L291.7 255.8 L286.7 255.3 L284.9 251.5 L287.9 249.0 L285.9 245.7Z M290.4 265.3 L294.2 262.8 L296.7 265.8 L294.9 269.8 L290.9 269.0Z M245.4 262.8 L249.1 265.3 L252.9 269.0 L257.9 266.5 L264.1 264.0 L270.4 262.3 L276.7 261.5 L278.4 264.8 L275.4 269.0 L271.7 272.8 L267.9 276.6 L264.1 279.8 L260.4 281.6 L254.1 279.8 L247.9 279.1 L242.8 277.8 L244.1 274.0 L246.6 270.3 L245.4 266.5Z M236.6 270.3 L240.3 269.8 L241.6 272.8 L239.1 276.6 L235.8 275.3Z M177.2 239.0 L179.2 239.0 L179.7 250.3 L178.2 255.3 L177.2 250.3Z M135.6 254.8 L137.1 251.5 L138.9 254.8Z M232.8 236.5 L235.3 236.7 L242.8 241.7 L240.8 242.7Z" fill="#ff6933" fill-rule="nonzero"/>
<path d="M157.7 304.2 L160.7 301.7 L164.8 298.6 L168.9 295.5 L170.9 295.0 L173.0 296.6 L177.0 296.1 L180.1 295.0 L182.1 296.6 L180.1 299.1 L177.0 301.2 L174.0 303.7 L170.9 306.8 L168.9 309.3 L166.8 310.8 L163.8 310.3 L160.7 308.8 L159.2 306.2Z M118.0 326.1 L124.1 322.0 L128.1 319.0 L132.2 312.9 L133.2 310.8 L138.3 310.3 L144.4 309.8 L147.5 307.3 L150.5 307.8 L154.6 309.8 L158.7 311.8 L161.8 312.9 L164.8 314.9 L168.9 316.4 L174.0 317.4 L177.0 318.0 L178.6 320.5 L191.3 323.6 L197.4 324.1 L201.5 327.1 L205.5 326.1 L208.6 323.6 L210.1 320.5 L211.6 322.0 L211.6 338.3 L118.0 338.3Z M124.6 308.3 L127.1 306.2 L130.2 304.5 L132.7 303.5 L133.2 304.9 L130.7 306.8 L128.1 308.6 L125.6 309.8Z M184.2 292.0 L187.2 290.5 L191.3 288.9 L194.3 286.4 L196.4 282.8 L197.9 279.8 L199.9 279.3 L201.5 281.8 L202.0 285.4 L200.4 287.9 L198.4 290.5 L197.4 293.5 L195.4 295.5 L192.8 296.6 L190.3 296.1 L187.2 294.5 L185.2 293.5Z" fill="#ff6933" fill-rule="nonzero"/>
<path d="M73.7 393.8 L81.0 394.7 L88.3 393.5 L92.0 395.7 L95.7 399.3 L100.2 402.1 L103.9 403.9 L104.8 408.5 L108.5 413.1 L109.4 416.7 L105.7 419.5 L101.2 421.0 L95.7 420.4 L90.2 419.5 L84.7 420.4 L80.1 423.2 L73.7 425.0Z M134.1 416.7 L137.8 414.9 L142.4 415.8 L146.1 418.6 L145.1 423.2 L144.2 426.8 L141.5 424.1 L137.8 420.4 L135.1 419.1Z M185.8 420.4 L189.1 418.6 L193.7 419.5 L198.3 422.2 L201.0 425.9 L202.3 429.6 L199.2 429.6 L195.5 427.2 L191.0 425.9 L187.3 424.1Z M198.3 409.4 L201.0 408.5 L203.8 413.1 L206.5 418.0 L204.7 419.5 L201.6 415.8 L199.2 412.5Z M210.2 435.6 L213.0 434.5 L214.8 436.9 L212.6 438.2Z M73.7 432.3 L81.0 432.0 L86.5 432.7 L90.2 434.5 L88.3 438.7 L86.1 442.4 L83.7 446.1 L81.0 443.3 L78.2 440.6 L73.7 439.6Z M125.0 392.0 L128.7 399.3 L132.3 403.9 L137.8 405.7 L145.1 406.7 L150.6 409.4 L156.1 413.1 L163.5 415.8 L169.9 418.6 L174.5 419.5 L175.4 414.9 L178.1 409.4 L183.6 407.6 L189.1 406.7 L196.5 405.7 L203.8 403.9 L211.1 403.0 L218.5 401.2 L223.0 397.5 L222.1 394.7 L216.6 393.5 L211.1 392.0 L205.6 390.2 L161.6 388.3 L158.0 392.9 L159.8 396.6 L157.1 400.2 L152.5 403.0 L147.0 404.8 L140.6 405.2 L135.1 403.9 L132.0 401.2 L130.5 397.5 L133.2 393.8 L132.3 390.2Z" fill="#ff6933" fill-rule="nonzero"/>
<path d="M73.7 477.4 L80.1 476.5 L83.7 478.3 L85.6 482.0 L88.3 484.7 L90.2 481.1 L92.0 475.6 L94.7 471.9 L98.4 471.0 L100.2 475.6 L99.3 480.2 L102.1 483.8 L106.7 485.7 L111.2 482.9 L114.9 478.3 L118.6 480.2 L123.2 482.0 L128.7 482.4 L134.1 482.0 L138.7 482.9 L140.6 486.6 L139.6 492.1 L138.7 497.6 L138.2 503.1 L134.1 505.8 L128.7 506.7 L123.2 507.3 L117.7 508.0 L112.2 509.1 L107.6 511.3 L103.9 514.1 L100.2 516.5 L97.5 519.0 L99.3 521.4 L103.9 519.6 L107.6 517.7 L111.2 518.7 L114.0 522.3 L116.7 524.5 L122.2 524.5 L127.7 524.1 L131.4 526.3 L129.6 529.6 L124.1 530.6 L118.6 529.6 L113.1 528.7 L107.6 529.6 L102.1 530.6 L97.5 531.1 L92.9 531.8 L89.2 533.7 L85.6 532.4 L82.8 528.7 L80.1 526.0 L73.7 523.2Z M147.9 482.0 L149.7 479.2 L152.1 481.1 L153.4 485.7 L155.2 490.2 L156.5 494.8 L156.1 499.4 L154.7 501.2 L152.5 497.6 L150.6 493.0 L148.8 487.5Z M133.2 572.5 L136.3 572.0 L139.6 573.3 L136.9 574.6 L133.8 574.0Z" fill="#ff6933" fill-rule="nonzero"/>
<path d="M81.0 654.5 L83.7 648.1 L86.5 643.5 L87.4 638.9 L90.2 635.2 L92.9 630.6 L93.8 625.1 L95.7 619.6 L97.5 615.1 L101.2 613.2 L105.7 613.2 L109.4 612.3 L112.2 608.7 L114.0 605.0 L117.7 601.3 L122.2 598.0 L124.6 597.3 L125.0 601.3 L124.1 605.9 L123.2 610.5 L125.0 614.1 L127.7 616.9 L131.4 619.6 L134.1 622.4 L135.1 625.5 L133.2 627.9 L130.5 626.6 L129.6 623.3 L126.8 620.6 L124.1 618.7 L122.2 622.4 L120.4 627.0 L118.6 631.6 L116.7 635.2 L114.9 638.9 L113.1 642.6 L111.2 646.2 L109.4 649.9 L108.5 654.5Z M118.6 654.5 L120.4 649.0 L124.1 648.1 L127.7 649.0 L126.8 654.5Z M187.3 589.4 L190.1 583.9 L192.4 578.4 L193.7 579.0 L191.3 585.7 L188.8 590.7Z" fill="#ff6933" fill-rule="nonzero"/>
<path d="M470.0 570.7 L472.1 567.1 L475.7 564.3 L480.0 562.1 L483.6 561.4 L487.1 560.0 L488.6 557.1 L490.7 554.3 L494.3 552.1 L497.9 550.7 L502.1 550.3 L506.4 550.0 L510.0 550.3 L512.9 552.1 L515.0 555.0 L517.1 557.9 L519.3 560.7 L520.7 562.9 L518.6 564.6 L515.0 565.7 L512.9 567.9 L515.0 570.0 L519.3 571.1 L523.6 571.7 L527.1 573.1 L530.0 575.0 L532.9 577.1 L536.4 578.6 L540.0 577.9 L542.9 576.4 L545.0 574.3 L547.1 572.1 L549.3 571.1 L550.4 573.6 L550.7 577.9 L551.4 582.1 L552.1 585.7 L550.7 587.1 L547.1 586.9 L543.6 586.0 L540.0 585.4 L536.4 586.0 L533.3 587.4 L535.0 589.3 L538.6 590.7 L540.7 593.1 L539.3 595.0 L535.7 595.4 L532.9 594.0 L530.7 591.7 L527.9 590.0 L525.0 588.3 L522.1 587.1 L520.0 588.3 L521.4 590.7 L520.0 592.9 L516.4 593.6 L512.9 594.0 L510.0 595.7 L512.1 597.9 L514.3 600.0 L515.0 602.9 L512.9 604.3 L510.0 605.0 L507.1 606.0 L504.3 607.9 L502.9 610.7 L500.7 611.4 L497.9 610.0 L495.0 608.6 L492.1 610.0 L489.3 610.7 L485.7 610.0 L482.9 608.6 L481.4 605.0 L480.7 601.4 L478.6 599.3 L475.0 598.3 L471.4 597.9 L467.9 598.3 L465.0 600.0 L462.9 597.1 L461.4 594.3 L462.1 591.4 L464.3 589.3 L467.1 587.9 L469.3 586.4 L470.4 582.9 L469.3 579.3 L468.6 575.7Z M484.3 622.9 L487.1 619.3 L490.7 616.4 L495.0 614.6 L499.3 614.3 L502.9 615.7 L504.3 618.6 L503.6 622.1 L501.4 625.7 L498.6 628.3 L495.0 630.0 L490.7 630.7 L487.1 629.3 L484.7 626.4Z M463.3 605.1 L466.3 603.1 L471.4 605.1 L475.4 610.3 L478.6 609.3 L481.6 610.3 L480.6 614.3 L475.4 615.7 L470.4 613.3 L466.3 610.3Z M483.6 553.1 L485.7 552.6 L486.7 554.3 L484.7 555.0Z" fill="#ff6933" fill-rule="nonzero"/>
<path d="M338.0 513.2 L340.4 512.5 L341.7 514.3 L339.1 515.0Z M353.2 531.2 L355.6 530.2 L356.3 532.1 L354.1 533.0Z M360.6 531.2 L362.9 530.2 L364.2 533.9 L365.5 537.6 L363.3 538.1 L361.8 534.8Z M367.9 535.7 L370.3 534.5 L371.0 536.7 L369.2 539.4Z M379.8 543.6 L382.6 542.5 L387.1 544.0 L391.7 545.5 L396.3 546.7 L400.0 548.6 L400.9 551.0 L397.2 550.4 L392.6 549.1 L388.1 548.0 L383.5 546.7 L380.7 545.5Z M341.0 559.0 L343.5 557.2 L347.7 557.7 L351.4 559.6 L352.3 562.3 L348.7 563.2 L344.1 563.8 L341.3 562.0Z" fill="#ff6933" fill-rule="nonzero"/>
<path d="M594.3 596.4 L596.1 593.3 L597.9 594.3 L599.3 597.1 L596.4 597.9Z M606.4 601.4 L609.3 599.6 L613.6 599.3 L617.1 600.4 L618.6 602.9 L616.4 604.3 L615.0 607.1 L612.9 606.4 L612.1 603.6 L609.3 602.9Z M627.1 596.1 L629.3 595.0 L630.0 596.7 L628.1 598.1Z M627.9 617.9 L630.0 615.0 L632.1 612.9 L634.3 614.3 L635.0 616.4 L637.1 617.9 L637.9 620.7 L635.7 622.9 L632.9 624.3 L630.0 625.7 L627.6 625.0 L628.6 622.1Z M584.3 586.1 L587.1 586.4 L590.7 587.6 L590.0 588.1 L586.7 587.6 L584.3 587.0Z" fill="#ff6933" fill-rule="nonzero"/>
<path d="M668.9 563.6 L671.5 563.4 L675.0 563.9 L678.1 564.9 L681.1 566.3 L683.2 568.0 L681.6 569.5 L678.6 569.7 L675.5 569.0 L673.0 567.5 L671.0 566.0Z M638.7 569.7 L640.9 569.0 L644.0 569.3 L646.0 570.0 L645.5 571.1 L642.4 571.4 L639.4 571.1Z" fill="#ff6933" fill-rule="nonzero"/>
<path d="M379.4 328.3 L380.7 327.8 L381.4 329.3 L380.2 330.0Z" fill="#ff6933" fill-rule="nonzero"/>
<path d="M258.6 230.7 L262.9 229.3 L268.6 229.0 L274.3 229.6 L278.6 230.7 L277.9 232.9 L273.6 233.9 L268.6 234.3 L264.3 233.3 L260.0 232.4Z M260.0 242.4 L263.6 241.4 L267.9 241.0 L269.3 242.9 L266.4 244.3 L262.1 243.9Z M272.1 244.7 L275.7 244.3 L279.3 245.7 L277.4 246.7 L273.6 246.1Z M295.0 260.7 L297.1 259.3 L298.3 261.4 L296.4 263.3Z M268.6 322.1 L272.1 320.0 L277.1 319.6 L281.4 320.4 L279.3 322.9 L275.7 325.0 L269.3 325.0Z M270.0 305.0 L271.4 304.4 L272.3 305.7 L270.7 306.3Z M331.4 247.9 L334.3 246.4 L340.0 249.3 L340.0 273.6 L345.7 275.0 L342.1 272.1 L339.3 268.6 L337.4 264.3 L335.7 259.3 L334.6 254.3 L333.6 250.7Z" fill="#ff6933" fill-rule="nonzero"/>
<path d="M218.6 291.4 L222.9 288.9 L227.9 286.4 L231.4 286.0 L231.1 287.9 L227.1 290.0 L222.9 292.1 L219.3 292.9Z" fill="#ff6933" fill-rule="nonzero"/>
<path d="M73.8 343.9 L82.5 344.6 L90.0 345.6 L97.6 346.4 L102.6 345.6 L100.1 348.9 L93.8 351.4 L87.5 353.9 L81.3 356.4 L73.8 357.6Z M132.1 396.5 L135.6 392.7 L141.4 390.7 L148.9 390.2 L155.2 391.5 L158.9 394.7 L160.2 399.0 L158.2 402.7 L155.2 405.7 L150.2 407.7 L145.2 409.0 L138.9 405.7 L133.9 404.0 L131.4 400.2Z" fill="#ffd96f" fill-rule="nonzero"/>
<path d="M161.4 315.1 L166.4 310.0 L171.5 305.5 L177.7 303.0 L184.0 302.5 L187.7 305.5 L185.2 310.0 L180.2 313.0 L172.7 315.1 L166.4 317.1Z M209.0 352.6 L214.0 351.4 L218.3 353.1 L217.3 357.6 L214.8 354.6 L210.3 355.6Z M75.5 386.4 L78.8 385.7 L81.3 388.9 L78.8 392.2 L75.5 392.7Z" fill="#ffffff" fill-rule="nonzero"/>
<path d="M259.1 273.3 L261.6 272.3 L264.1 274.0 L262.9 276.6 L259.9 276.1Z" fill="#ffffff" fill-rule="nonzero"/>
<path d="M163.8 312.9 L166.8 310.3 L170.9 306.8 L175.0 303.2 L179.1 300.1 L183.1 298.1 L186.2 298.6 L188.2 300.6 L190.3 303.7 L189.2 306.8 L190.3 309.8 L188.2 312.4 L185.2 313.9 L181.1 314.9 L177.0 316.9 L173.0 316.4 L167.9 314.9Z M150.5 338.3 L152.6 331.2 L154.6 327.6 L158.2 325.3 L161.8 323.9 L164.8 323.0 L162.8 325.1 L160.7 327.1 L158.7 330.2 L156.7 333.2 L155.6 338.3Z M150.5 304.2 L152.6 303.5 L155.6 305.2 L159.2 307.8 L160.2 309.8 L157.7 309.8 L154.6 307.8 L152.1 306.2Z M200.4 328.1 L202.5 327.6 L204.5 329.7 L205.0 332.2 L203.0 332.7 L201.0 330.7Z" fill="#ffffff" fill-rule="nonzero"/>
<path d="M73.7 499.4 L79.2 497.6 L83.7 495.7 L87.4 496.3 L89.2 499.4 L91.1 504.0 L92.0 507.7 L89.2 509.9 L84.7 508.6 L80.1 505.8 L73.7 504.9Z" fill="#ffffff" fill-rule="nonzero"/>
<path d="M135.7 334.9 L139.3 333.9 L143.3 334.9 L145.4 335.9 L141.3 336.2 L138.7 336.9 L137.7 339.0 L140.3 341.0 L138.7 343.6 L137.2 345.6 L135.7 342.5Z M151.0 331.3 L153.0 327.3 L156.6 324.7 L160.6 324.0 L164.7 325.2 L162.2 326.8 L160.1 328.8 L158.6 330.5 L160.1 332.2 L157.1 333.9 L153.5 334.9 L151.0 333.9Z M142.8 356.8 L144.9 354.3 L147.4 352.2 L149.9 351.5 L147.9 355.6 L145.4 357.3Z M186.1 363.1 L188.3 361.7 L190.2 358.8 L191.7 355.8 L194.2 354.8 L198.3 355.8 L200.4 359.9 L199.8 362.9 L196.3 360.9 L194.2 362.9 L193.7 367.0 L194.2 371.1 L191.2 374.1 L187.1 376.2 L183.0 377.2 L178.0 377.7 L172.9 378.2 L167.8 379.2 L165.2 378.2 L166.8 375.1 L170.8 373.1 L175.9 372.1 L180.0 370.6 L178.0 367.5 L173.9 367.0 L176.9 365.0 L180.0 364.1 L183.0 363.7Z M200.4 327.3 L203.4 328.3 L205.4 330.8 L203.9 332.4 L201.4 330.8Z" fill="#ffffff" fill-rule="nonzero"/>
<path d="M90.0 334.1 L93.8 332.8 L97.6 333.8 L98.1 336.1 L93.8 337.1 L90.5 336.3Z M92.0 357.6 L95.1 356.6 L97.1 358.6 L94.5 360.6Z M175.2 316.3 L180.2 313.8 L187.7 313.8 L195.3 315.1 L201.5 313.8 L206.5 315.1 L209.8 318.8 L207.8 323.1 L202.8 325.1 L196.5 323.8 L190.2 322.6 L184.0 322.1 L179.0 320.6Z M190.7 341.4 L195.3 338.8 L202.8 337.6 L210.3 338.8 L215.3 341.4 L216.5 346.4 L212.8 350.1 L207.8 352.6 L202.8 354.6 L197.8 355.6 L194.0 352.6 L191.5 347.6Z M152.7 413.2 L158.9 412.7 L166.4 414.0 L171.5 416.5 L172.7 419.0 L167.7 418.3 L160.2 416.5 L155.2 415.3Z" fill="#cf3a2e" fill-rule="nonzero"/>
<path d="M177.0 318.0 L179.1 315.9 L182.1 314.4 L186.2 313.9 L190.3 312.9 L193.3 310.8 L195.9 309.8 L197.9 311.8 L197.4 315.9 L198.4 320.0 L201.5 315.9 L204.5 314.9 L207.1 315.9 L208.6 318.0 L209.6 320.5 L208.6 323.0 L206.6 325.1 L203.5 326.1 L200.4 327.1 L198.4 326.1 L196.4 324.1 L193.3 323.6 L190.3 324.1 L187.2 323.6 L184.2 323.0 L181.1 322.5 L178.6 321.0Z M190.3 298.6 L192.3 297.6 L194.3 298.6 L193.8 300.6 L191.3 300.8Z" fill="#cf3a2e" fill-rule="nonzero"/>
<path d="M147.0 412.2 L152.5 413.1 L159.8 413.6 L167.1 414.9 L170.8 418.0 L167.1 419.1 L161.6 417.3 L155.2 416.2 L149.7 414.9Z" fill="#cf3a2e" fill-rule="nonzero"/>
<path d="M90.5 495.7 L93.8 493.4 L98.4 492.6 L102.6 492.1 L104.8 493.9 L102.1 496.7 L98.4 498.9 L94.7 500.3 L91.6 498.9Z M81.4 512.8 L84.3 511.9 L87.4 513.2 L86.1 515.0 L82.5 514.6Z" fill="#cf3a2e" fill-rule="nonzero"/>
<path d="M116.7 614.1 L119.5 613.2 L121.7 616.9 L121.0 621.5 L119.1 626.1 L116.7 630.6 L114.0 634.3 L111.2 637.1 L108.5 636.1 L108.1 631.6 L109.4 627.0 L111.8 622.4 L114.0 618.2Z M101.2 639.8 L103.9 637.1 L106.7 636.1 L108.5 638.9 L107.6 642.6 L105.7 645.3 L103.0 644.4 L101.5 642.0Z M189.1 570.5 L191.0 569.8 L192.1 572.0 L190.1 573.1Z" fill="#cf3a2e" fill-rule="nonzero"/>
<path d="M402.3 485.1 L405.9 484.9 L405.9 486.6 L402.3 486.7Z" fill="#cf3a2e" fill-rule="nonzero"/>
<path d="M671.5 564.9 L673.5 564.4 L676.0 566.0 L678.6 567.7 L676.6 568.5 L674.0 567.7Z" fill="#cf3a2e" fill-rule="nonzero"/>
<path d="M332.6 249.3 L335.0 247.9 L340.0 251.4 L340.0 267.9 L338.6 265.7 L336.9 260.7 L335.4 255.7 L334.3 252.1Z" fill="#cf3a2e" fill-rule="nonzero"/>
<path d="M189.2 295.5 L191.3 294.5 L193.8 295.5 L194.8 298.1 L193.3 300.1 L190.8 300.1 L189.2 298.1Z" fill="#cf3a2e" fill-rule="nonzero"/>
<path d="M103.0 352.4 L106.7 348.7 L112.2 345.1 L118.6 342.3 L125.0 340.1 L129.6 339.6 L130.5 343.2 L127.7 347.8 L123.2 351.5 L117.7 354.2 L113.1 357.0 L109.4 360.6 L106.7 365.2 L102.1 368.0 L98.4 366.1 L99.3 361.6 L102.1 357.0Z M116.7 356.6 L122.2 354.8 L128.7 354.8 L132.3 357.0 L133.2 362.5 L134.1 369.8 L136.0 377.1 L134.1 381.7 L129.6 384.1 L125.9 381.7 L125.0 376.2 L123.2 369.8 L120.4 364.3 L117.7 360.6Z" fill="#cf3a2e" fill-rule="nonzero"/>
<path d="M178.2 317.1 L181.5 315.1 L185.7 315.6 L187.7 318.8 L185.7 321.6 L181.5 322.1 L179.0 320.1Z M193.2 346.4 L196.5 343.1 L201.5 342.6 L206.5 344.6 L207.3 348.9 L204.0 352.1 L199.0 353.1 L195.3 351.4Z" fill="#8a1a20" fill-rule="nonzero"/>
<path d="M178.0 318.0 L180.1 316.4 L183.1 315.9 L185.2 317.4 L184.2 320.0 L181.6 321.0 L179.1 320.5Z" fill="#8a1a20" fill-rule="nonzero"/>
<use href="#mainland" fill="#d3d3d3" stroke="#1a1a1a" stroke-width="0.7" stroke-linejoin="round"/>
<path d="M545.5 546.3 L550.5 544.6 L560.2 543.9 L564.8 544.1 L568.9 545.6 L571.4 546.9 L569.9 547.6 L565.8 546.9 L561.8 545.9 L557.2 545.1 L553.6 545.6 L550.5 546.9 L547.0 549.0Z M385.3 301.8 L387.8 300.8 L390.4 301.3 L390.9 303.3 L388.8 304.6 L386.3 304.1Z M542.6 323.4 L545.6 320.4 L546.7 324.5 L543.7 327.8 L540.8 327.4Z" fill="#fff" stroke="#222" stroke-width="0.5"/>
<use href="#isles" fill="#d3d3d3" stroke="#1a1a1a" stroke-width="0.7" stroke-linejoin="round"/>
<path d="M75.5 180.0 L77.9 179.4 L80.7 179.4 M336.1 237.6 L343.8 236.7 L351.2 237.2 L357.6 238.1 M336.9 247.3 L343.8 248.0 L351.2 247.3 L356.7 246.7 L362.2 249.1 L366.7 245.8 L369.1 244.0 M362.2 249.1 L364.0 251.7 M338.0 255.4 L343.8 253.5 M339.8 263.2 L345.7 259.6 L353.0 257.2 L361.2 255.4 M340.5 267.4 L349.3 264.5 M343.5 272.9 L349.3 270.6 L353.9 268.7 M345.7 276.1 L353.0 274.2 M350.2 228.8 L359.4 227.5 M359.4 224.2 L367.7 225.3 L375.0 225.7 M372.2 218.3 L376.8 218.0 L380.5 219.2 L382.3 223.5 M379.0 214.3 L384.5 213.2 M624.6 515.5 L620.5 514.9 L618.0 514.4 L615.5 517.0 L612.9 520.0 L611.9 521.4 M648.6 506.3 L648.9 509.1 M680.6 440.2 L686.1 439.3 L691.6 437.5 L694.4 436.6 M683.4 428.3 L685.2 433.8 L686.1 437.5 M680.6 437.5 L688.0 438.4 M455.6 452.8 L458.3 457.4 L461.6 461.1 M463.8 462.0 L467.5 466.6 L471.2 469.3 M483.1 477.6 L488.6 480.3 L493.2 482.5 M485.8 479.4 L492.2 483.1 L497.7 485.5 M489.5 482.5 L495.9 485.5 L500.5 486.7 M333.4 351.5 L337.1 349.7 M338.9 349.0 L343.5 348.0 M345.3 347.9 L349.9 347.3 M351.7 347.1 L357.2 346.8 M277.5 376.3 L283.0 375.8 M223.5 314.0 L229.0 313.6" fill="none" stroke="#222" stroke-width="0.9" stroke-linecap="round"/>
<path d="M205.5 132.0V652.0 M335.5 132.0V652.0 M465.5 132.0V652.0 M595.5 132.0V652.0 M725.5 132.0V652.0 M75.5 522.3H830.3 M75.5 392.3H830.3 M75.5 262.3H830.3" stroke="#000" stroke-opacity="0.08" stroke-width="1" fill="none"/>
<path d="M205.5 132.0V652.0 M335.5 132.0V652.0 M465.5 132.0V652.0 M595.5 132.0V652.0 M725.5 132.0V652.0 M75.5 522.3H830.3 M75.5 392.3H830.3 M75.5 262.3H830.3" stroke="#000" stroke-opacity="0.12" stroke-width="1" fill="none" clip-path="url(#landclip)"/>
</g>
<rect x="75.5" y="132.0" width="754.8" height="520.0" fill="none" stroke="#111" stroke-width="0.8"/>
<!-- title -->
<text x="453" y="42.3" font-size="17.6" font-weight="bold" text-anchor="middle" fill="#000">Marine Heatwave Category Map - 2025-05-10</text>
<text x="446" y="105.3" font-size="9.75" text-anchor="middle" fill="#000">Data: GLO12V4 forecast</text>
<!-- tick labels -->
<g font-size="15.3" font-weight="bold" fill="#808080">
<text x="205.5" y="668.3" text-anchor="middle">5°W</text>
<text x="335.5" y="668.3" text-anchor="middle">5°E</text>
<text x="465.5" y="668.3" text-anchor="middle">15°E</text>
<text x="595.5" y="668.3" text-anchor="middle">25°E</text>
<text x="725.5" y="668.3" text-anchor="middle">35°E</text>
<text x="70.5" y="266.7" text-anchor="end">60°N</text>
<text x="70.5" y="396.7" text-anchor="end">50°N</text>
<text x="70.5" y="526.7" text-anchor="end">40°N</text>
</g>
<!-- colorbar -->
<g>
<rect x="861" y="165" width="23" height="114.6" fill="#85191f"/>
<rect x="861" y="279.5" width="23" height="114.6" fill="#d3382f"/>
<rect x="861" y="394" width="23" height="114.4" fill="#ff6933"/>
<rect x="861" y="508.3" width="23" height="114" fill="#ffd96f"/>
<path d="M861 165 L872.5 142 L884 165Z" fill="#000"/>
<path d="M861 165 V622.3 L872.5 645.5 L884 622.3 V165" fill="none" stroke="#000" stroke-width="0.8"/>
<path d="M884 222.4h3.4M884 336.9h3.4M884 451.3h3.4M884 565.5h3.4M884 279.5h1.6M884 394h1.6M884 508.3h1.6M884 165h1.6M884 622.3h1.6" stroke="#000" stroke-width="0.8" fill="none"/>
<g font-size="13.6" fill="#000">
<text x="889.9" y="227.8">Extreme</text>
<text x="889.9" y="342.3">Severe</text>
<text x="889.9" y="456.7">Strong</text>
<text x="889.9" y="570.9">Moderate</text>
</g>
</g>
<!-- Mercator Ocean International logo -->
<g>
<path d="M85.5 87.5 A18 18 0 1 1 86.6 74.6" transform="rotate(8 69.4 79.4)" fill="none" stroke="#8fc1df" stroke-width="3.6" stroke-linecap="round"/>
<path d="M59.5 80.5 C58.5 74 63 72.5 64.5 76 C65.5 79 64 86.5 61.5 89.5 C64 81 67.5 75 71 74.5 C74.5 74.5 73 81 71.5 87.5 C74 80.5 77 76.5 80 77 C82.5 77.8 80.5 83.5 80.5 86.5 C80.8 89.2 83.5 88.6 86 86.2" fill="none" stroke="#a9cfe8" stroke-width="3.4" transform="translate(0,-1.2)" stroke-linecap="round" stroke-linejoin="round"/>
<g font-family='"Liberation Sans",sans-serif' font-weight="bold" fill="#22294f">
<text x="99.7" y="73.5" font-size="15.8" textLength="94.4" lengthAdjust="spacingAndGlyphs" stroke="#22294f" stroke-width="0.5">MERCATOR</text>
<text x="101.6" y="88.6" font-size="15.8" textLength="58.6" lengthAdjust="spacingAndGlyphs" stroke="#22294f" stroke-width="0.5">OCEAN</text>
</g>
<text x="102" y="101.7" font-family='"Liberation Sans",sans-serif' font-size="6.9" fill="#3a4060" stroke="#3a4060" stroke-width="0.15" textLength="77.4" lengthAdjust="spacing">INTERNATIONAL</text>
</g>
<!-- Copernicus Marine Service logo -->
<g fill="#2a67a5">
<path d="M783.5 63.5 C776 51.5 759 47.5 745 54.5 C729.5 62.5 724 82 733 97 C741 110.5 758 112.5 771 106.5 C759 109.5 746.5 104.5 740.5 93.5 C733.5 80.5 738 64.5 751 57.5 C762.5 51.5 776 54.5 783.5 63.5Z"/>
<path d="M742.8 69.8 C744.6 72.4 745.2 73.6 746.9 75 C751.5 70.5 758.5 67.5 765 68 C771.5 68.6 776.8 72 778.8 75.6 C776.5 79.5 771 82.4 764.5 82.6 C758 82.6 751.5 80 747 76.2 C745.3 77.6 744.3 79.2 742.6 81.6 C743.6 78.5 744 77.5 744 75.6 C744 73.8 743.6 72.5 742.8 69.8Z"/>
<path d="M739.8 86 C746 84.6 752 85.2 758 87 C766 89.4 774 89.6 781.5 87.2 L781.3 90.6 C773.5 92.6 765.5 92.3 757.5 90 C751.5 88.3 746 87.8 740 89Z"/>
<circle cx="772.3" cy="74.6" r="2.5" fill="#fff"/><circle cx="772.8" cy="74.6" r="1.2"/>
</g>
<g font-family='"Liberation Sans",sans-serif' fill="#3f74a8">
<text x="800.5" y="78.4" font-size="12.3" textLength="61" lengthAdjust="spacingAndGlyphs">Copernicus</text>
<text x="790.6" y="92.9" font-size="12.3" textLength="80.4" lengthAdjust="spacingAndGlyphs">Marine Service</text>
</g>

</svg></body></html>
